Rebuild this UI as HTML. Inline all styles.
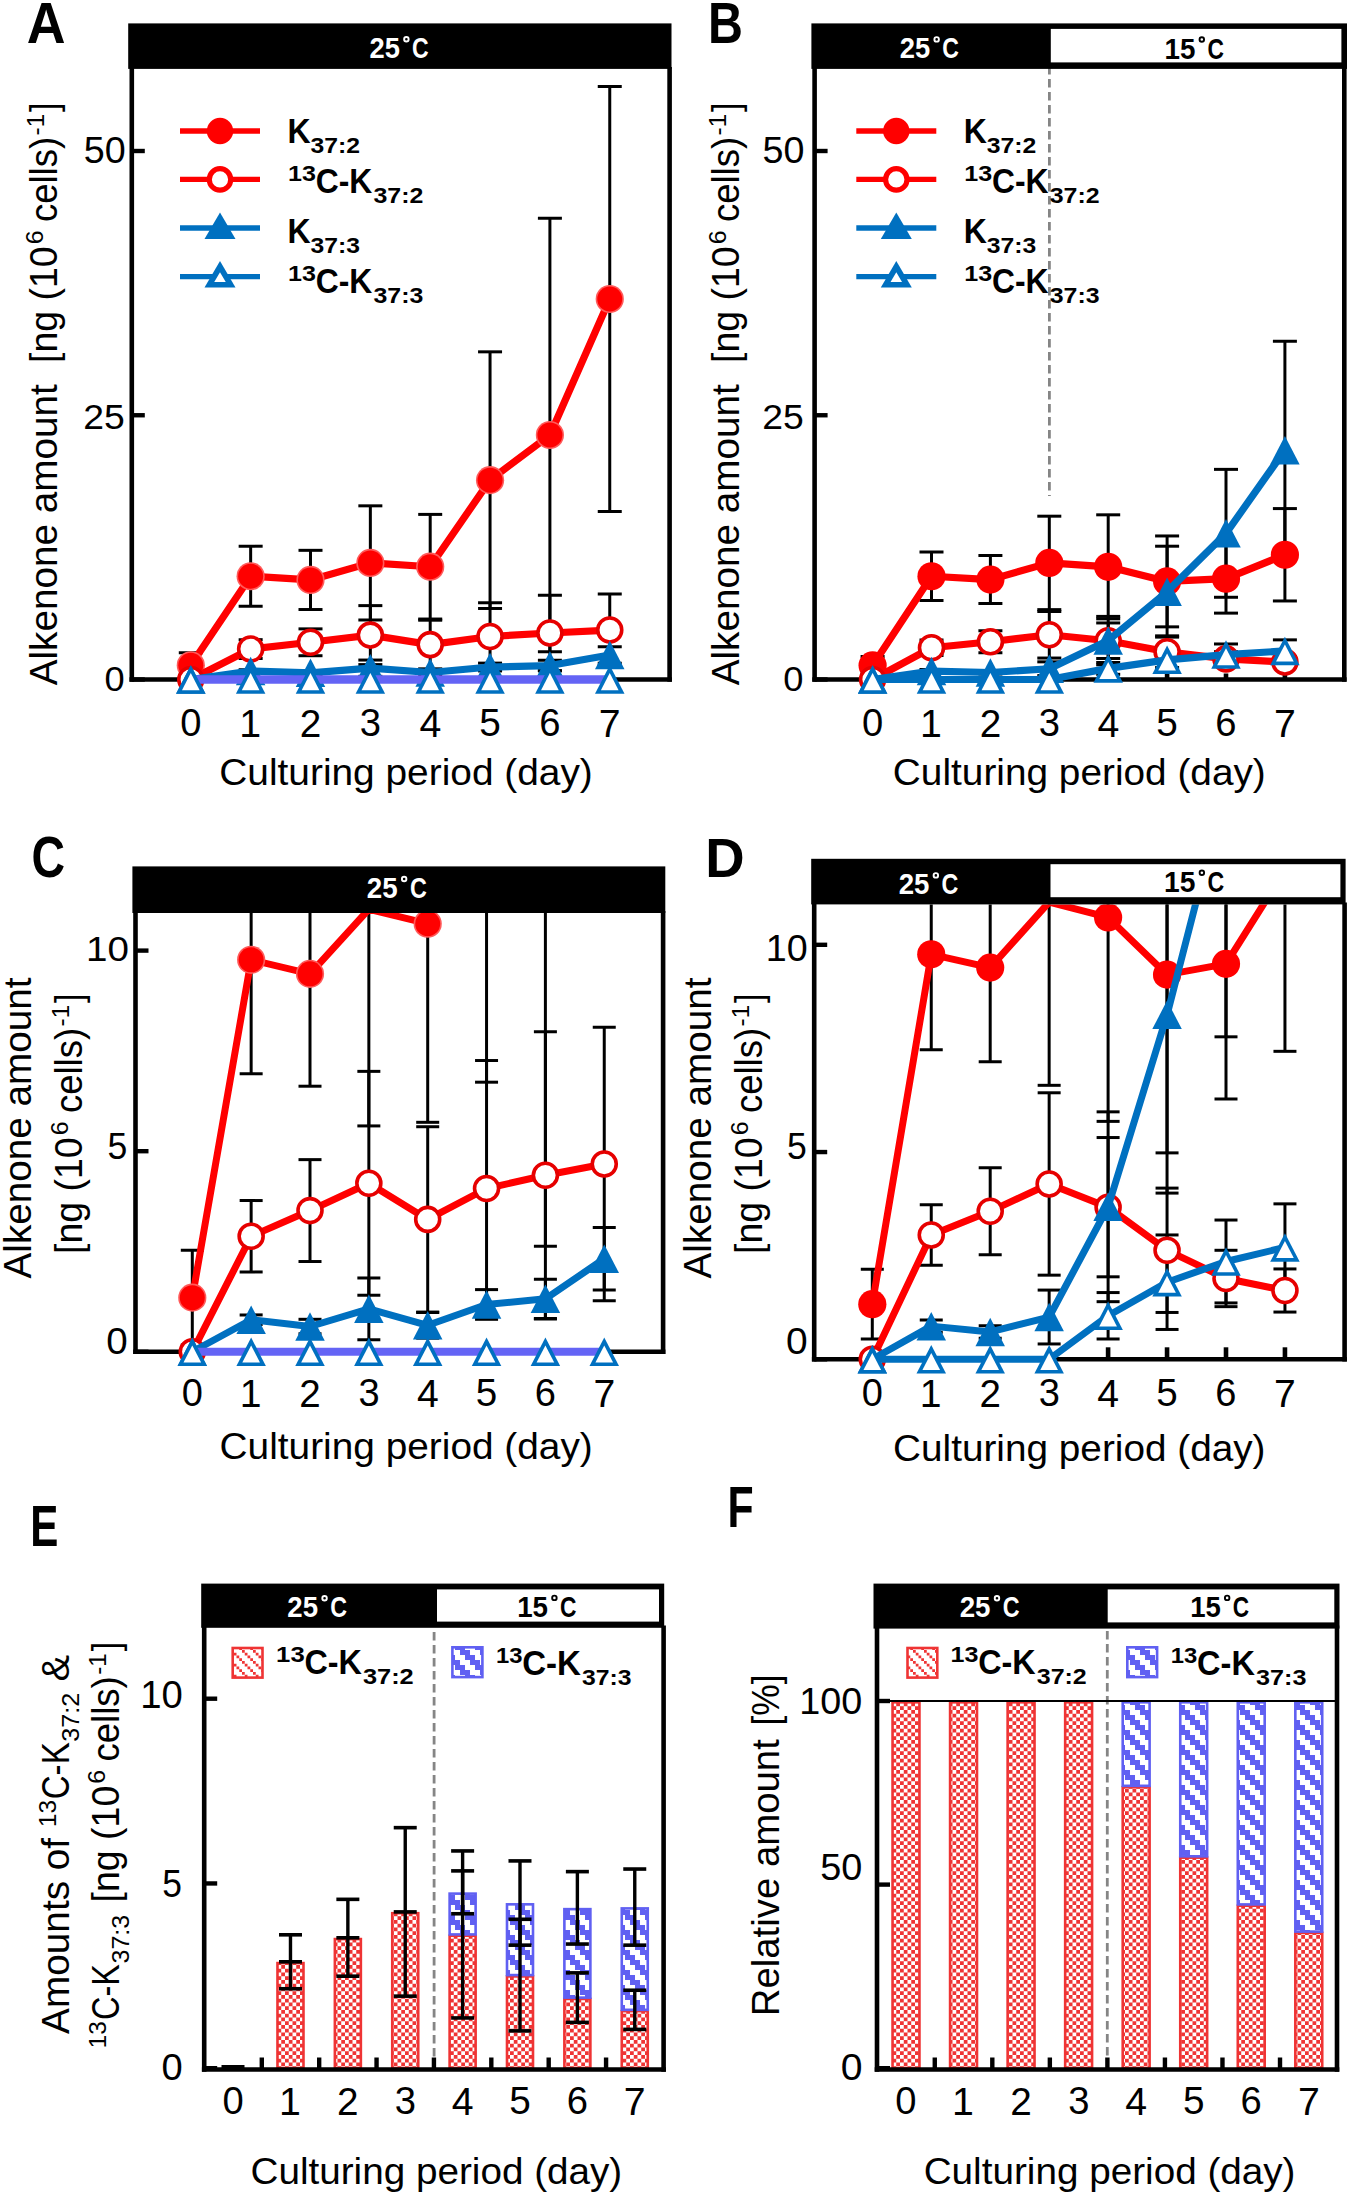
<!DOCTYPE html><html><head><meta charset="utf-8"><style>html,body{margin:0;padding:0;background:#fff;}svg{display:block;}</style></head><body><svg width="1350" height="2195" viewBox="0 0 1350 2195" font-family='"Liberation Sans", sans-serif'><defs><clipPath id="clipA"><rect x="131.8" y="68.9" width="577.8" height="1000"/></clipPath><clipPath id="clipB"><rect x="814.6" y="68.9" width="569.7" height="1000"/></clipPath><clipPath id="clipC"><rect x="135.5" y="913" width="567.6" height="1000"/></clipPath><clipPath id="clipD"><rect x="814.2" y="904.4" width="570.4" height="1000"/></clipPath><pattern id="chk" x="0" y="0" width="7.5" height="7.5" patternUnits="userSpaceOnUse"><rect width="7.5" height="7.5" fill="#ef3434"/><rect x="0" y="0" width="3.75" height="3.75" fill="#fff"/><rect x="3.75" y="3.75" width="3.75" height="3.75" fill="#fff"/></pattern><pattern id="dia" x="0" y="0" width="20" height="20" patternUnits="userSpaceOnUse"><rect width="20" height="20" fill="#6060f2"/><rect x="0" y="0" width="5" height="5" fill="#fff"/><rect x="5" y="0" width="5" height="5" fill="#fff"/><rect x="5" y="5" width="5" height="5" fill="#fff"/><rect x="10" y="5" width="5" height="5" fill="#fff"/><rect x="10" y="10" width="5" height="5" fill="#fff"/><rect x="15" y="10" width="5" height="5" fill="#fff"/><rect x="15" y="15" width="5" height="5" fill="#fff"/><rect x="0" y="15" width="5" height="5" fill="#fff"/></pattern><pattern id="dia_r" x="0" y="0" width="11" height="11" patternUnits="userSpaceOnUse"><rect width="11" height="11" fill="#fff"/><rect x="0" y="0" width="2.75" height="2.75" fill="#ef3434"/><rect x="2.75" y="2.75" width="2.75" height="2.75" fill="#ef3434"/><rect x="5.5" y="5.5" width="2.75" height="2.75" fill="#ef3434"/><rect x="8.25" y="8.25" width="2.75" height="2.75" fill="#ef3434"/></pattern></defs><rect width="1350" height="2195" fill="#fff"/><text transform="translate(26.66,43.3) scale(0.9235,1)" font-size="58.18" font-weight="bold" fill="#000">A</text>
<text transform="translate(708.04,42.5) scale(0.8547,1)" font-size="56.58" font-weight="bold" fill="#000">B</text>
<text transform="translate(31.44,877.13) scale(0.8148,1)" font-size="56.96" font-weight="bold" fill="#000">C</text>
<text transform="translate(705.32,876.8) scale(0.9712,1)" font-size="56.15" font-weight="bold" fill="#000">D</text>
<text transform="translate(30.36,1545.9) scale(0.7354,1)" font-size="57.31" font-weight="bold" fill="#000">E</text>
<text transform="translate(727.61,1526.7) scale(0.7405,1)" font-size="57.75" font-weight="bold" fill="#000">F</text>
<line x1="131.8" y1="66.9" x2="131.8" y2="681.8" stroke="#000" stroke-width="4.6"/>
<line x1="669.6" y1="66.9" x2="669.6" y2="681.8" stroke="#000" stroke-width="4.6"/>
<line x1="129.5" y1="679.5" x2="671.9" y2="679.5" stroke="#000" stroke-width="4.6"/>
<line x1="131.8" y1="679.5" x2="144.8" y2="679.5" stroke="#000" stroke-width="4.4"/>
<line x1="131.8" y1="415.25" x2="144.8" y2="415.25" stroke="#000" stroke-width="4.4"/>
<line x1="131.8" y1="151" x2="144.8" y2="151" stroke="#000" stroke-width="4.4"/>
<g clip-path="url(#clipA)">
<line x1="190.8" y1="652.76" x2="190.8" y2="677.7" stroke="#000" stroke-width="3"/>
<line x1="178.8" y1="652.76" x2="202.8" y2="652.76" stroke="#000" stroke-width="3"/>
<line x1="178.8" y1="677.7" x2="202.8" y2="677.7" stroke="#000" stroke-width="3"/>
<line x1="250.65" y1="546.21" x2="250.65" y2="606.25" stroke="#000" stroke-width="3"/>
<line x1="238.65" y1="546.21" x2="262.65" y2="546.21" stroke="#000" stroke-width="3"/>
<line x1="238.65" y1="606.25" x2="262.65" y2="606.25" stroke="#000" stroke-width="3"/>
<line x1="310.5" y1="550.33" x2="310.5" y2="609.53" stroke="#000" stroke-width="3"/>
<line x1="298.5" y1="550.33" x2="322.5" y2="550.33" stroke="#000" stroke-width="3"/>
<line x1="298.5" y1="609.53" x2="322.5" y2="609.53" stroke="#000" stroke-width="3"/>
<line x1="370.35" y1="505.83" x2="370.35" y2="619.99" stroke="#000" stroke-width="3"/>
<line x1="358.35" y1="505.83" x2="382.35" y2="505.83" stroke="#000" stroke-width="3"/>
<line x1="358.35" y1="619.99" x2="382.35" y2="619.99" stroke="#000" stroke-width="3"/>
<line x1="430.2" y1="514.4" x2="430.2" y2="619.04" stroke="#000" stroke-width="3"/>
<line x1="418.2" y1="514.4" x2="442.2" y2="514.4" stroke="#000" stroke-width="3"/>
<line x1="418.2" y1="619.04" x2="442.2" y2="619.04" stroke="#000" stroke-width="3"/>
<line x1="490.05" y1="351.83" x2="490.05" y2="608.47" stroke="#000" stroke-width="3"/>
<line x1="478.05" y1="351.83" x2="502.05" y2="351.83" stroke="#000" stroke-width="3"/>
<line x1="478.05" y1="608.47" x2="502.05" y2="608.47" stroke="#000" stroke-width="3"/>
<line x1="549.9" y1="218.33" x2="549.9" y2="651.7" stroke="#000" stroke-width="3"/>
<line x1="537.9" y1="218.33" x2="561.9" y2="218.33" stroke="#000" stroke-width="3"/>
<line x1="537.9" y1="651.7" x2="561.9" y2="651.7" stroke="#000" stroke-width="3"/>
<line x1="609.75" y1="86.52" x2="609.75" y2="511.44" stroke="#000" stroke-width="3"/>
<line x1="597.75" y1="86.52" x2="621.75" y2="86.52" stroke="#000" stroke-width="3"/>
<line x1="597.75" y1="511.44" x2="621.75" y2="511.44" stroke="#000" stroke-width="3"/>
<line x1="250.65" y1="639.65" x2="250.65" y2="658.47" stroke="#000" stroke-width="3"/>
<line x1="238.65" y1="639.65" x2="262.65" y2="639.65" stroke="#000" stroke-width="3"/>
<line x1="238.65" y1="658.47" x2="262.65" y2="658.47" stroke="#000" stroke-width="3"/>
<line x1="310.5" y1="628.87" x2="310.5" y2="655.72" stroke="#000" stroke-width="3"/>
<line x1="298.5" y1="628.87" x2="322.5" y2="628.87" stroke="#000" stroke-width="3"/>
<line x1="298.5" y1="655.72" x2="322.5" y2="655.72" stroke="#000" stroke-width="3"/>
<line x1="370.35" y1="605.62" x2="370.35" y2="664.6" stroke="#000" stroke-width="3"/>
<line x1="358.35" y1="605.62" x2="382.35" y2="605.62" stroke="#000" stroke-width="3"/>
<line x1="358.35" y1="664.6" x2="382.35" y2="664.6" stroke="#000" stroke-width="3"/>
<line x1="430.2" y1="620.2" x2="430.2" y2="669.04" stroke="#000" stroke-width="3"/>
<line x1="418.2" y1="620.2" x2="442.2" y2="620.2" stroke="#000" stroke-width="3"/>
<line x1="418.2" y1="669.04" x2="442.2" y2="669.04" stroke="#000" stroke-width="3"/>
<line x1="490.05" y1="602.76" x2="490.05" y2="670.2" stroke="#000" stroke-width="3"/>
<line x1="478.05" y1="602.76" x2="502.05" y2="602.76" stroke="#000" stroke-width="3"/>
<line x1="478.05" y1="670.2" x2="502.05" y2="670.2" stroke="#000" stroke-width="3"/>
<line x1="549.9" y1="595.15" x2="549.9" y2="670.83" stroke="#000" stroke-width="3"/>
<line x1="537.9" y1="595.15" x2="561.9" y2="595.15" stroke="#000" stroke-width="3"/>
<line x1="537.9" y1="670.83" x2="561.9" y2="670.83" stroke="#000" stroke-width="3"/>
<line x1="609.75" y1="593.99" x2="609.75" y2="666.08" stroke="#000" stroke-width="3"/>
<line x1="597.75" y1="593.99" x2="621.75" y2="593.99" stroke="#000" stroke-width="3"/>
<line x1="597.75" y1="666.08" x2="621.75" y2="666.08" stroke="#000" stroke-width="3"/>
<line x1="250.65" y1="669.78" x2="250.65" y2="672.31" stroke="#000" stroke-width="3"/>
<line x1="238.65" y1="669.78" x2="262.65" y2="669.78" stroke="#000" stroke-width="3"/>
<line x1="238.65" y1="672.31" x2="262.65" y2="672.31" stroke="#000" stroke-width="3"/>
<line x1="310.5" y1="670.94" x2="310.5" y2="674.74" stroke="#000" stroke-width="3"/>
<line x1="298.5" y1="670.94" x2="322.5" y2="670.94" stroke="#000" stroke-width="3"/>
<line x1="298.5" y1="674.74" x2="322.5" y2="674.74" stroke="#000" stroke-width="3"/>
<line x1="370.35" y1="660.05" x2="370.35" y2="676.33" stroke="#000" stroke-width="3"/>
<line x1="358.35" y1="660.05" x2="382.35" y2="660.05" stroke="#000" stroke-width="3"/>
<line x1="358.35" y1="676.33" x2="382.35" y2="676.33" stroke="#000" stroke-width="3"/>
<line x1="430.2" y1="669.14" x2="430.2" y2="675.91" stroke="#000" stroke-width="3"/>
<line x1="418.2" y1="669.14" x2="442.2" y2="669.14" stroke="#000" stroke-width="3"/>
<line x1="418.2" y1="675.91" x2="442.2" y2="675.91" stroke="#000" stroke-width="3"/>
<line x1="490.05" y1="663.12" x2="490.05" y2="670.94" stroke="#000" stroke-width="3"/>
<line x1="478.05" y1="663.12" x2="502.05" y2="663.12" stroke="#000" stroke-width="3"/>
<line x1="478.05" y1="670.94" x2="502.05" y2="670.94" stroke="#000" stroke-width="3"/>
<line x1="549.9" y1="660.37" x2="549.9" y2="670.73" stroke="#000" stroke-width="3"/>
<line x1="537.9" y1="660.37" x2="561.9" y2="660.37" stroke="#000" stroke-width="3"/>
<line x1="537.9" y1="670.73" x2="561.9" y2="670.73" stroke="#000" stroke-width="3"/>
<line x1="609.75" y1="646.73" x2="609.75" y2="663.22" stroke="#000" stroke-width="3"/>
<line x1="597.75" y1="646.73" x2="621.75" y2="646.73" stroke="#000" stroke-width="3"/>
<line x1="597.75" y1="663.22" x2="621.75" y2="663.22" stroke="#000" stroke-width="3"/>
<polyline points="190.8,665.23 250.65,576.23 310.5,579.93 370.35,562.91 430.2,566.72 490.05,480.15 549.9,435.02 609.75,298.98" fill="none" stroke="#ff0000" stroke-width="7.2" stroke-linejoin="round"/>
<circle cx="190.8" cy="665.23" r="14.1" fill="#ff5a5a"/>
<circle cx="190.8" cy="665.23" r="12.5" fill="#ff0000"/>
<circle cx="250.65" cy="576.23" r="14.1" fill="#ff5a5a"/>
<circle cx="250.65" cy="576.23" r="12.5" fill="#ff0000"/>
<circle cx="310.5" cy="579.93" r="14.1" fill="#ff5a5a"/>
<circle cx="310.5" cy="579.93" r="12.5" fill="#ff0000"/>
<circle cx="370.35" cy="562.91" r="14.1" fill="#ff5a5a"/>
<circle cx="370.35" cy="562.91" r="12.5" fill="#ff0000"/>
<circle cx="430.2" cy="566.72" r="14.1" fill="#ff5a5a"/>
<circle cx="430.2" cy="566.72" r="12.5" fill="#ff0000"/>
<circle cx="490.05" cy="480.15" r="14.1" fill="#ff5a5a"/>
<circle cx="490.05" cy="480.15" r="12.5" fill="#ff0000"/>
<circle cx="549.9" cy="435.02" r="14.1" fill="#ff5a5a"/>
<circle cx="549.9" cy="435.02" r="12.5" fill="#ff0000"/>
<circle cx="609.75" cy="298.98" r="14.1" fill="#ff5a5a"/>
<circle cx="609.75" cy="298.98" r="12.5" fill="#ff0000"/>
<polyline points="190.8,679.5 250.65,649.06 310.5,642.29 370.35,635.11 430.2,644.62 490.05,636.48 549.9,632.99 609.75,630.03" fill="none" stroke="#ff0000" stroke-width="7.2" stroke-linejoin="round"/>
<circle cx="190.8" cy="679.5" r="12" fill="#fff" stroke="#e60000" stroke-width="3.6"/>
<circle cx="250.65" cy="649.06" r="12" fill="#fff" stroke="#e60000" stroke-width="3.6"/>
<circle cx="310.5" cy="642.29" r="12" fill="#fff" stroke="#e60000" stroke-width="3.6"/>
<circle cx="370.35" cy="635.11" r="12" fill="#fff" stroke="#e60000" stroke-width="3.6"/>
<circle cx="430.2" cy="644.62" r="12" fill="#fff" stroke="#e60000" stroke-width="3.6"/>
<circle cx="490.05" cy="636.48" r="12" fill="#fff" stroke="#e60000" stroke-width="3.6"/>
<circle cx="549.9" cy="632.99" r="12" fill="#fff" stroke="#e60000" stroke-width="3.6"/>
<circle cx="609.75" cy="630.03" r="12" fill="#fff" stroke="#e60000" stroke-width="3.6"/>
<polyline points="190.8,679.5 250.65,671.04 310.5,672.84 370.35,668.19 430.2,672.52 490.05,667.03 549.9,665.55 609.75,654.98" fill="none" stroke="#0070c0" stroke-width="7.2" stroke-linejoin="round"/>
<polygon points="190.8,665.25 205.55,693.75 176.05,693.75" fill="#0070c0"/>
<polygon points="250.65,656.79 265.4,685.29 235.9,685.29" fill="#0070c0"/>
<polygon points="310.5,658.59 325.25,687.09 295.75,687.09" fill="#0070c0"/>
<polygon points="370.35,653.94 385.1,682.44 355.6,682.44" fill="#0070c0"/>
<polygon points="430.2,658.27 444.95,686.77 415.45,686.77" fill="#0070c0"/>
<polygon points="490.05,652.78 504.8,681.28 475.3,681.28" fill="#0070c0"/>
<polygon points="549.9,651.3 564.65,679.8 535.15,679.8" fill="#0070c0"/>
<polygon points="609.75,640.73 624.5,669.23 595,669.23" fill="#0070c0"/>
<polyline points="190.8,679.5 250.65,679.5 310.5,679.5 370.35,679.5 430.2,679.5 490.05,679.5 549.9,679.5 609.75,679.5" fill="none" stroke="#6464f5" stroke-width="8.4" stroke-linejoin="round"/>
<polygon points="190.8,665.25 205.55,693.75 176.05,693.75" fill="#0070c0"/>
<polygon points="190.8,673.08 199.63,690.15 181.97,690.15" fill="#fff"/>
<polygon points="250.65,665.25 265.4,693.75 235.9,693.75" fill="#0070c0"/>
<polygon points="250.65,673.08 259.48,690.15 241.82,690.15" fill="#fff"/>
<polygon points="310.5,665.25 325.25,693.75 295.75,693.75" fill="#0070c0"/>
<polygon points="310.5,673.08 319.33,690.15 301.67,690.15" fill="#fff"/>
<polygon points="370.35,665.25 385.1,693.75 355.6,693.75" fill="#0070c0"/>
<polygon points="370.35,673.08 379.18,690.15 361.52,690.15" fill="#fff"/>
<polygon points="430.2,665.25 444.95,693.75 415.45,693.75" fill="#0070c0"/>
<polygon points="430.2,673.08 439.03,690.15 421.37,690.15" fill="#fff"/>
<polygon points="490.05,665.25 504.8,693.75 475.3,693.75" fill="#0070c0"/>
<polygon points="490.05,673.08 498.88,690.15 481.22,690.15" fill="#fff"/>
<polygon points="549.9,665.25 564.65,693.75 535.15,693.75" fill="#0070c0"/>
<polygon points="549.9,673.08 558.73,690.15 541.07,690.15" fill="#fff"/>
<polygon points="609.75,665.25 624.5,693.75 595,693.75" fill="#0070c0"/>
<polygon points="609.75,673.08 618.58,690.15 600.92,690.15" fill="#fff"/>
</g>
<text transform="translate(180.16,736.42) scale(1.0000,1)" font-size="38.16" fill="#000">0</text>
<text transform="translate(239.21,736.8) scale(1.0000,1)" font-size="39.27" fill="#000">1</text>
<text transform="translate(299.76,736.8) scale(1.0000,1)" font-size="38.71" fill="#000">2</text>
<text transform="translate(359.86,736.42) scale(1.0000,1)" font-size="38.16" fill="#000">3</text>
<text transform="translate(419.4,736.8) scale(1.0000,1)" font-size="39.27" fill="#000">4</text>
<text transform="translate(479.31,736.41) scale(1.0000,1)" font-size="38.71" fill="#000">5</text>
<text transform="translate(539.17,736.42) scale(1.0000,1)" font-size="38.16" fill="#000">6</text>
<text transform="translate(598.85,736.8) scale(1.0000,1)" font-size="39.27" fill="#000">7</text>
<line x1="180" y1="131" x2="260" y2="131" stroke="#ff0000" stroke-width="5.4"/>
<circle cx="220" cy="131" r="13.2" fill="#ff0000"/>
<line x1="180" y1="179.4" x2="260" y2="179.4" stroke="#ff0000" stroke-width="5.4"/>
<circle cx="220" cy="179.4" r="10.7" fill="#fff" stroke="#ff0000" stroke-width="5.2"/>
<line x1="180" y1="228" x2="260" y2="228" stroke="#0070c0" stroke-width="5.4"/>
<polygon points="220,212.45 235.5,238.95 204.5,238.95" fill="#0070c0"/>
<line x1="180" y1="276.6" x2="260" y2="276.6" stroke="#0070c0" stroke-width="5.4"/>
<polygon points="220,261.05 235.5,287.55 204.5,287.55" fill="#0070c0"/>
<polygon points="220,272.14 225.74,281.95 214.26,281.95" fill="#fff"/>
<text transform="translate(287.44,143) scale(0.8997,1)" font-size="35.5" font-weight="bold" fill="#000">K</text>
<text transform="translate(310.44,153) scale(1.1508,1)" font-size="21.5" font-weight="bold" fill="#000">37:2</text>
<text transform="translate(288.03,181) scale(1.1668,1)" font-size="21.5" font-weight="bold" fill="#000">13</text>
<text transform="translate(315.73,193) scale(0.8968,1)" font-size="35.5" font-weight="bold" fill="#000">C-K</text>
<text transform="translate(373.44,203) scale(1.1604,1)" font-size="21.5" font-weight="bold" fill="#000">37:2</text>
<text transform="translate(287.44,243) scale(0.8997,1)" font-size="35.5" font-weight="bold" fill="#000">K</text>
<text transform="translate(310.44,253) scale(1.1493,1)" font-size="21.5" font-weight="bold" fill="#000">37:3</text>
<text transform="translate(288.03,281) scale(1.1668,1)" font-size="21.5" font-weight="bold" fill="#000">13</text>
<text transform="translate(315.73,293) scale(0.8968,1)" font-size="35.5" font-weight="bold" fill="#000">C-K</text>
<text transform="translate(373.44,303) scale(1.1589,1)" font-size="21.5" font-weight="bold" fill="#000">37:3</text>
<text transform="translate(83.69,162.62) scale(0.9983,1)" font-size="37.74" fill="#000">50</text>
<text transform="translate(83.33,428.54) scale(1.0487,1)" font-size="35.62" fill="#000">25</text>
<text transform="translate(104.55,690.65) scale(1.0253,1)" font-size="35.34" fill="#000">0</text>
<text transform="translate(219.26,784.9) scale(1.0616,1)" font-size="36.6" fill="#000">Culturing period (day)</text>
<g transform="rotate(-90)">
<text transform="translate(-685.3,56.8) scale(0.9873,1)" font-size="39.2" fill="#000">Alkenone amount</text>
</g>
<g transform="rotate(-90)">
<text transform="translate(-363.03,56.8) scale(0.9567,1)" font-size="39.2" fill="#000">[ng (10</text>
</g>
<g transform="rotate(-90)">
<text transform="translate(-244.35,43.3) scale(1.0673,1)" font-size="23.5" fill="#000">6</text>
</g>
<g transform="rotate(-90)">
<text transform="translate(-222.05,56.8) scale(0.9312,1)" font-size="39.2" fill="#000">cells)</text>
</g>
<g transform="rotate(-90)">
<text transform="translate(-135.39,43.8) scale(1.0331,1)" font-size="23.5" fill="#000">-1</text>
</g>
<g transform="rotate(-90)">
<text transform="translate(-111.95,56.8) scale(0.8673,1)" font-size="39.2" fill="#000">]</text>
</g>
<line x1="814.6" y1="66.9" x2="814.6" y2="681.8" stroke="#000" stroke-width="4.6"/>
<line x1="1344.3" y1="66.9" x2="1344.3" y2="681.8" stroke="#000" stroke-width="4.6"/>
<line x1="812.3" y1="679.5" x2="1346.6" y2="679.5" stroke="#000" stroke-width="4.6"/>
<line x1="814.6" y1="679.5" x2="827.6" y2="679.5" stroke="#000" stroke-width="4.4"/>
<line x1="814.6" y1="415.25" x2="827.6" y2="415.25" stroke="#000" stroke-width="4.4"/>
<line x1="814.6" y1="151" x2="827.6" y2="151" stroke="#000" stroke-width="4.4"/>
<line x1="1108.2" y1="673.5" x2="1108.2" y2="679.5" stroke="#000" stroke-width="4.6"/>
<line x1="1167.1" y1="673.5" x2="1167.1" y2="679.5" stroke="#000" stroke-width="4.6"/>
<line x1="1226" y1="673.5" x2="1226" y2="679.5" stroke="#000" stroke-width="4.6"/>
<line x1="1284.9" y1="673.5" x2="1284.9" y2="679.5" stroke="#000" stroke-width="4.6"/>
<line x1="1049.4" y1="66" x2="1049.4" y2="496" stroke="#858585" stroke-width="2.8" stroke-dasharray="8.5,4.5"/>
<g clip-path="url(#clipB)">
<line x1="872.6" y1="656.56" x2="872.6" y2="674.32" stroke="#000" stroke-width="3"/>
<line x1="860.6" y1="656.56" x2="884.6" y2="656.56" stroke="#000" stroke-width="3"/>
<line x1="860.6" y1="674.32" x2="884.6" y2="674.32" stroke="#000" stroke-width="3"/>
<line x1="931.5" y1="551.92" x2="931.5" y2="600.54" stroke="#000" stroke-width="3"/>
<line x1="919.5" y1="551.92" x2="943.5" y2="551.92" stroke="#000" stroke-width="3"/>
<line x1="919.5" y1="600.54" x2="943.5" y2="600.54" stroke="#000" stroke-width="3"/>
<line x1="990.4" y1="555.62" x2="990.4" y2="603.61" stroke="#000" stroke-width="3"/>
<line x1="978.4" y1="555.62" x2="1002.4" y2="555.62" stroke="#000" stroke-width="3"/>
<line x1="978.4" y1="603.61" x2="1002.4" y2="603.61" stroke="#000" stroke-width="3"/>
<line x1="1049.3" y1="516.19" x2="1049.3" y2="609.63" stroke="#000" stroke-width="3"/>
<line x1="1037.3" y1="516.19" x2="1061.3" y2="516.19" stroke="#000" stroke-width="3"/>
<line x1="1037.3" y1="609.63" x2="1061.3" y2="609.63" stroke="#000" stroke-width="3"/>
<line x1="1108.2" y1="514.82" x2="1108.2" y2="618.83" stroke="#000" stroke-width="3"/>
<line x1="1096.2" y1="514.82" x2="1120.2" y2="514.82" stroke="#000" stroke-width="3"/>
<line x1="1096.2" y1="618.83" x2="1120.2" y2="618.83" stroke="#000" stroke-width="3"/>
<line x1="1167.1" y1="535.96" x2="1167.1" y2="626.86" stroke="#000" stroke-width="3"/>
<line x1="1155.1" y1="535.96" x2="1179.1" y2="535.96" stroke="#000" stroke-width="3"/>
<line x1="1155.1" y1="626.86" x2="1179.1" y2="626.86" stroke="#000" stroke-width="3"/>
<line x1="1226" y1="544.2" x2="1226" y2="613.12" stroke="#000" stroke-width="3"/>
<line x1="1214" y1="544.2" x2="1238" y2="544.2" stroke="#000" stroke-width="3"/>
<line x1="1214" y1="613.12" x2="1238" y2="613.12" stroke="#000" stroke-width="3"/>
<line x1="1284.9" y1="508.58" x2="1284.9" y2="600.96" stroke="#000" stroke-width="3"/>
<line x1="1272.9" y1="508.58" x2="1296.9" y2="508.58" stroke="#000" stroke-width="3"/>
<line x1="1272.9" y1="600.96" x2="1296.9" y2="600.96" stroke="#000" stroke-width="3"/>
<line x1="931.5" y1="640.07" x2="931.5" y2="655.51" stroke="#000" stroke-width="3"/>
<line x1="919.5" y1="640.07" x2="943.5" y2="640.07" stroke="#000" stroke-width="3"/>
<line x1="919.5" y1="655.51" x2="943.5" y2="655.51" stroke="#000" stroke-width="3"/>
<line x1="990.4" y1="630.67" x2="990.4" y2="652.86" stroke="#000" stroke-width="3"/>
<line x1="978.4" y1="630.67" x2="1002.4" y2="630.67" stroke="#000" stroke-width="3"/>
<line x1="978.4" y1="652.86" x2="1002.4" y2="652.86" stroke="#000" stroke-width="3"/>
<line x1="1049.3" y1="611.53" x2="1049.3" y2="658.04" stroke="#000" stroke-width="3"/>
<line x1="1037.3" y1="611.53" x2="1061.3" y2="611.53" stroke="#000" stroke-width="3"/>
<line x1="1037.3" y1="658.04" x2="1061.3" y2="658.04" stroke="#000" stroke-width="3"/>
<line x1="1108.2" y1="622.95" x2="1108.2" y2="658.47" stroke="#000" stroke-width="3"/>
<line x1="1096.2" y1="622.95" x2="1120.2" y2="622.95" stroke="#000" stroke-width="3"/>
<line x1="1096.2" y1="658.47" x2="1120.2" y2="658.47" stroke="#000" stroke-width="3"/>
<line x1="1167.1" y1="635.85" x2="1167.1" y2="667.56" stroke="#000" stroke-width="3"/>
<line x1="1155.1" y1="635.85" x2="1179.1" y2="635.85" stroke="#000" stroke-width="3"/>
<line x1="1155.1" y1="667.56" x2="1179.1" y2="667.56" stroke="#000" stroke-width="3"/>
<line x1="1226" y1="651.7" x2="1226" y2="666.08" stroke="#000" stroke-width="3"/>
<line x1="1214" y1="651.7" x2="1238" y2="651.7" stroke="#000" stroke-width="3"/>
<line x1="1214" y1="666.08" x2="1238" y2="666.08" stroke="#000" stroke-width="3"/>
<line x1="1284.9" y1="656.46" x2="1284.9" y2="667.45" stroke="#000" stroke-width="3"/>
<line x1="1272.9" y1="656.46" x2="1296.9" y2="656.46" stroke="#000" stroke-width="3"/>
<line x1="1272.9" y1="667.45" x2="1296.9" y2="667.45" stroke="#000" stroke-width="3"/>
<line x1="931.5" y1="669.46" x2="931.5" y2="672.63" stroke="#000" stroke-width="3"/>
<line x1="919.5" y1="669.46" x2="943.5" y2="669.46" stroke="#000" stroke-width="3"/>
<line x1="919.5" y1="672.63" x2="943.5" y2="672.63" stroke="#000" stroke-width="3"/>
<line x1="990.4" y1="670.94" x2="990.4" y2="674.11" stroke="#000" stroke-width="3"/>
<line x1="978.4" y1="670.94" x2="1002.4" y2="670.94" stroke="#000" stroke-width="3"/>
<line x1="978.4" y1="674.11" x2="1002.4" y2="674.11" stroke="#000" stroke-width="3"/>
<line x1="1049.3" y1="661.85" x2="1049.3" y2="675.59" stroke="#000" stroke-width="3"/>
<line x1="1037.3" y1="661.85" x2="1061.3" y2="661.85" stroke="#000" stroke-width="3"/>
<line x1="1037.3" y1="675.59" x2="1061.3" y2="675.59" stroke="#000" stroke-width="3"/>
<line x1="1108.2" y1="616.4" x2="1108.2" y2="664.81" stroke="#000" stroke-width="3"/>
<line x1="1096.2" y1="616.4" x2="1120.2" y2="616.4" stroke="#000" stroke-width="3"/>
<line x1="1096.2" y1="664.81" x2="1120.2" y2="664.81" stroke="#000" stroke-width="3"/>
<line x1="1167.1" y1="546.21" x2="1167.1" y2="637.11" stroke="#000" stroke-width="3"/>
<line x1="1155.1" y1="546.21" x2="1179.1" y2="546.21" stroke="#000" stroke-width="3"/>
<line x1="1155.1" y1="637.11" x2="1179.1" y2="637.11" stroke="#000" stroke-width="3"/>
<line x1="1226" y1="469.37" x2="1226" y2="597.27" stroke="#000" stroke-width="3"/>
<line x1="1214" y1="469.37" x2="1238" y2="469.37" stroke="#000" stroke-width="3"/>
<line x1="1214" y1="597.27" x2="1238" y2="597.27" stroke="#000" stroke-width="3"/>
<line x1="1284.9" y1="341.26" x2="1284.9" y2="559" stroke="#000" stroke-width="3"/>
<line x1="1272.9" y1="341.26" x2="1296.9" y2="341.26" stroke="#000" stroke-width="3"/>
<line x1="1272.9" y1="559" x2="1296.9" y2="559" stroke="#000" stroke-width="3"/>
<line x1="1108.2" y1="662.48" x2="1108.2" y2="674.32" stroke="#000" stroke-width="3"/>
<line x1="1096.2" y1="662.48" x2="1120.2" y2="662.48" stroke="#000" stroke-width="3"/>
<line x1="1096.2" y1="674.32" x2="1120.2" y2="674.32" stroke="#000" stroke-width="3"/>
<line x1="1167.1" y1="647.79" x2="1167.1" y2="671.89" stroke="#000" stroke-width="3"/>
<line x1="1155.1" y1="647.79" x2="1179.1" y2="647.79" stroke="#000" stroke-width="3"/>
<line x1="1155.1" y1="671.89" x2="1179.1" y2="671.89" stroke="#000" stroke-width="3"/>
<line x1="1226" y1="643.98" x2="1226" y2="665.12" stroke="#000" stroke-width="3"/>
<line x1="1214" y1="643.98" x2="1238" y2="643.98" stroke="#000" stroke-width="3"/>
<line x1="1214" y1="665.12" x2="1238" y2="665.12" stroke="#000" stroke-width="3"/>
<line x1="1284.9" y1="639.86" x2="1284.9" y2="662.06" stroke="#000" stroke-width="3"/>
<line x1="1272.9" y1="639.86" x2="1296.9" y2="639.86" stroke="#000" stroke-width="3"/>
<line x1="1272.9" y1="662.06" x2="1296.9" y2="662.06" stroke="#000" stroke-width="3"/>
<polyline points="872.6,665.44 931.5,576.23 990.4,579.61 1049.3,562.91 1108.2,566.82 1167.1,581.41 1226,578.66 1284.9,554.77" fill="none" stroke="#ff0000" stroke-width="7.2" stroke-linejoin="round"/>
<circle cx="872.6" cy="665.44" r="14.1" fill="#ff0000"/>
<circle cx="931.5" cy="576.23" r="14.1" fill="#ff0000"/>
<circle cx="990.4" cy="579.61" r="14.1" fill="#ff0000"/>
<circle cx="1049.3" cy="562.91" r="14.1" fill="#ff0000"/>
<circle cx="1108.2" cy="566.82" r="14.1" fill="#ff0000"/>
<circle cx="1167.1" cy="581.41" r="14.1" fill="#ff0000"/>
<circle cx="1226" cy="578.66" r="14.1" fill="#ff0000"/>
<circle cx="1284.9" cy="554.77" r="14.1" fill="#ff0000"/>
<polyline points="872.6,679.5 931.5,647.79 990.4,641.77 1049.3,634.79 1108.2,640.71 1167.1,651.7 1226,658.89 1284.9,661.95" fill="none" stroke="#ff0000" stroke-width="7.2" stroke-linejoin="round"/>
<circle cx="872.6" cy="679.5" r="12" fill="#fff" stroke="#e60000" stroke-width="3.6"/>
<circle cx="931.5" cy="647.79" r="12" fill="#fff" stroke="#e60000" stroke-width="3.6"/>
<circle cx="990.4" cy="641.77" r="12" fill="#fff" stroke="#e60000" stroke-width="3.6"/>
<circle cx="1049.3" cy="634.79" r="12" fill="#fff" stroke="#e60000" stroke-width="3.6"/>
<circle cx="1108.2" cy="640.71" r="12" fill="#fff" stroke="#e60000" stroke-width="3.6"/>
<circle cx="1167.1" cy="651.7" r="12" fill="#fff" stroke="#e60000" stroke-width="3.6"/>
<circle cx="1226" cy="658.89" r="12" fill="#fff" stroke="#e60000" stroke-width="3.6"/>
<circle cx="1284.9" cy="661.95" r="12" fill="#fff" stroke="#e60000" stroke-width="3.6"/>
<polyline points="872.6,679.5 931.5,671.04 990.4,672.52 1049.3,668.72 1108.2,640.6 1167.1,591.66 1226,533.32 1284.9,450.13" fill="none" stroke="#0070c0" stroke-width="7.2" stroke-linejoin="round"/>
<polygon points="872.6,665.25 887.35,693.75 857.85,693.75" fill="#0070c0"/>
<polygon points="931.5,656.79 946.25,685.29 916.75,685.29" fill="#0070c0"/>
<polygon points="990.4,658.27 1005.15,686.77 975.65,686.77" fill="#0070c0"/>
<polygon points="1049.3,654.47 1064.05,682.97 1034.55,682.97" fill="#0070c0"/>
<polygon points="1108.2,626.35 1122.95,654.85 1093.45,654.85" fill="#0070c0"/>
<polygon points="1167.1,577.41 1181.85,605.91 1152.35,605.91" fill="#0070c0"/>
<polygon points="1226,519.07 1240.75,547.57 1211.25,547.57" fill="#0070c0"/>
<polygon points="1284.9,435.88 1299.65,464.38 1270.15,464.38" fill="#0070c0"/>
<polyline points="872.6,679.5 931.5,679.5 990.4,679.5 1049.3,679.5 1108.2,668.4 1167.1,659.84 1226,654.55 1284.9,650.96" fill="none" stroke="#0070c0" stroke-width="7.2" stroke-linejoin="round"/>
<polygon points="872.6,665.25 887.35,693.75 857.85,693.75" fill="#0070c0"/>
<polygon points="872.6,673.08 881.43,690.15 863.77,690.15" fill="#fff"/>
<polygon points="931.5,665.25 946.25,693.75 916.75,693.75" fill="#0070c0"/>
<polygon points="931.5,673.08 940.33,690.15 922.67,690.15" fill="#fff"/>
<polygon points="990.4,665.25 1005.15,693.75 975.65,693.75" fill="#0070c0"/>
<polygon points="990.4,673.08 999.23,690.15 981.57,690.15" fill="#fff"/>
<polygon points="1049.3,665.25 1064.05,693.75 1034.55,693.75" fill="#0070c0"/>
<polygon points="1049.3,673.08 1058.13,690.15 1040.47,690.15" fill="#fff"/>
<polygon points="1108.2,654.15 1122.95,682.65 1093.45,682.65" fill="#0070c0"/>
<polygon points="1108.2,661.98 1117.03,679.05 1099.37,679.05" fill="#fff"/>
<polygon points="1167.1,645.59 1181.85,674.09 1152.35,674.09" fill="#0070c0"/>
<polygon points="1167.1,653.42 1175.93,670.49 1158.27,670.49" fill="#fff"/>
<polygon points="1226,640.3 1240.75,668.8 1211.25,668.8" fill="#0070c0"/>
<polygon points="1226,648.14 1234.83,665.2 1217.17,665.2" fill="#fff"/>
<polygon points="1284.9,636.71 1299.65,665.21 1270.15,665.21" fill="#0070c0"/>
<polygon points="1284.9,644.54 1293.73,661.61 1276.07,661.61" fill="#fff"/>
</g>
<text transform="translate(861.96,736.42) scale(1.0000,1)" font-size="38.16" fill="#000">0</text>
<text transform="translate(920.06,736.8) scale(1.0000,1)" font-size="39.27" fill="#000">1</text>
<text transform="translate(979.66,736.8) scale(1.0000,1)" font-size="38.71" fill="#000">2</text>
<text transform="translate(1038.81,736.42) scale(1.0000,1)" font-size="38.16" fill="#000">3</text>
<text transform="translate(1097.4,736.8) scale(1.0000,1)" font-size="39.27" fill="#000">4</text>
<text transform="translate(1156.36,736.41) scale(1.0000,1)" font-size="38.71" fill="#000">5</text>
<text transform="translate(1215.27,736.42) scale(1.0000,1)" font-size="38.16" fill="#000">6</text>
<text transform="translate(1274,736.8) scale(1.0000,1)" font-size="39.27" fill="#000">7</text>
<line x1="856.3" y1="131" x2="936.3" y2="131" stroke="#ff0000" stroke-width="5.4"/>
<circle cx="896.3" cy="131" r="13.2" fill="#ff0000"/>
<line x1="856.3" y1="179.4" x2="936.3" y2="179.4" stroke="#ff0000" stroke-width="5.4"/>
<circle cx="896.3" cy="179.4" r="10.7" fill="#fff" stroke="#ff0000" stroke-width="5.2"/>
<line x1="856.3" y1="228" x2="936.3" y2="228" stroke="#0070c0" stroke-width="5.4"/>
<polygon points="896.3,212.45 911.8,238.95 880.8,238.95" fill="#0070c0"/>
<line x1="856.3" y1="276.6" x2="936.3" y2="276.6" stroke="#0070c0" stroke-width="5.4"/>
<polygon points="896.3,261.05 911.8,287.55 880.8,287.55" fill="#0070c0"/>
<polygon points="896.3,272.14 902.04,281.95 890.56,281.95" fill="#fff"/>
<text transform="translate(963.74,143) scale(0.8997,1)" font-size="35.5" font-weight="bold" fill="#000">K</text>
<text transform="translate(986.74,153) scale(1.1508,1)" font-size="21.5" font-weight="bold" fill="#000">37:2</text>
<text transform="translate(964.33,181) scale(1.1668,1)" font-size="21.5" font-weight="bold" fill="#000">13</text>
<text transform="translate(992.03,193) scale(0.8968,1)" font-size="35.5" font-weight="bold" fill="#000">C-K</text>
<text transform="translate(1049.74,203) scale(1.1604,1)" font-size="21.5" font-weight="bold" fill="#000">37:2</text>
<text transform="translate(963.74,243) scale(0.8997,1)" font-size="35.5" font-weight="bold" fill="#000">K</text>
<text transform="translate(986.74,253) scale(1.1493,1)" font-size="21.5" font-weight="bold" fill="#000">37:3</text>
<text transform="translate(964.33,281) scale(1.1668,1)" font-size="21.5" font-weight="bold" fill="#000">13</text>
<text transform="translate(992.03,293) scale(0.8968,1)" font-size="35.5" font-weight="bold" fill="#000">C-K</text>
<text transform="translate(1049.74,303) scale(1.1589,1)" font-size="21.5" font-weight="bold" fill="#000">37:3</text>
<text transform="translate(762.49,162.62) scale(0.9983,1)" font-size="37.74" fill="#000">50</text>
<text transform="translate(762.13,428.54) scale(1.0487,1)" font-size="35.62" fill="#000">25</text>
<text transform="translate(783.35,690.65) scale(1.0253,1)" font-size="35.34" fill="#000">0</text>
<text transform="translate(892.86,784.9) scale(1.0598,1)" font-size="36.6" fill="#000">Culturing period (day)</text>
<g transform="rotate(-90)">
<text transform="translate(-685.3,739.4) scale(0.9873,1)" font-size="39.2" fill="#000">Alkenone amount</text>
</g>
<g transform="rotate(-90)">
<text transform="translate(-363.03,739.4) scale(0.9567,1)" font-size="39.2" fill="#000">[ng (10</text>
</g>
<g transform="rotate(-90)">
<text transform="translate(-244.35,725.9) scale(1.0673,1)" font-size="23.5" fill="#000">6</text>
</g>
<g transform="rotate(-90)">
<text transform="translate(-222.05,739.4) scale(0.9312,1)" font-size="39.2" fill="#000">cells)</text>
</g>
<g transform="rotate(-90)">
<text transform="translate(-135.39,726.4) scale(1.0331,1)" font-size="23.5" fill="#000">-1</text>
</g>
<g transform="rotate(-90)">
<text transform="translate(-111.95,739.4) scale(0.8673,1)" font-size="39.2" fill="#000">]</text>
</g>
<line x1="135.5" y1="911" x2="135.5" y2="1354.1" stroke="#000" stroke-width="4.6"/>
<line x1="663.1" y1="911" x2="663.1" y2="1354.1" stroke="#000" stroke-width="4.6"/>
<line x1="133.2" y1="1351.8" x2="665.4" y2="1351.8" stroke="#000" stroke-width="4.6"/>
<line x1="135.5" y1="1351.8" x2="148.5" y2="1351.8" stroke="#000" stroke-width="4.4"/>
<line x1="135.5" y1="1151.2" x2="148.5" y2="1151.2" stroke="#000" stroke-width="4.4"/>
<line x1="135.5" y1="950.6" x2="148.5" y2="950.6" stroke="#000" stroke-width="4.4"/>
<g clip-path="url(#clipC)">
<line x1="192.3" y1="1250.3" x2="192.3" y2="1344.98" stroke="#000" stroke-width="3"/>
<line x1="180.8" y1="1250.3" x2="203.8" y2="1250.3" stroke="#000" stroke-width="3"/>
<line x1="180.8" y1="1344.98" x2="203.8" y2="1344.98" stroke="#000" stroke-width="3"/>
<line x1="251.15" y1="845.89" x2="251.15" y2="1073.77" stroke="#000" stroke-width="3"/>
<line x1="239.65" y1="845.89" x2="262.65" y2="845.89" stroke="#000" stroke-width="3"/>
<line x1="239.65" y1="1073.77" x2="262.65" y2="1073.77" stroke="#000" stroke-width="3"/>
<line x1="310" y1="861.53" x2="310" y2="1086.21" stroke="#000" stroke-width="3"/>
<line x1="298.5" y1="861.53" x2="321.5" y2="861.53" stroke="#000" stroke-width="3"/>
<line x1="298.5" y1="1086.21" x2="321.5" y2="1086.21" stroke="#000" stroke-width="3"/>
<line x1="368.85" y1="692.63" x2="368.85" y2="1125.92" stroke="#000" stroke-width="3"/>
<line x1="357.35" y1="692.63" x2="380.35" y2="692.63" stroke="#000" stroke-width="3"/>
<line x1="357.35" y1="1125.92" x2="380.35" y2="1125.92" stroke="#000" stroke-width="3"/>
<line x1="427.7" y1="725.13" x2="427.7" y2="1122.31" stroke="#000" stroke-width="3"/>
<line x1="416.2" y1="725.13" x2="439.2" y2="725.13" stroke="#000" stroke-width="3"/>
<line x1="416.2" y1="1122.31" x2="439.2" y2="1122.31" stroke="#000" stroke-width="3"/>
<line x1="486.55" y1="108.08" x2="486.55" y2="1082.19" stroke="#000" stroke-width="3"/>
<line x1="475.05" y1="108.08" x2="498.05" y2="108.08" stroke="#000" stroke-width="3"/>
<line x1="475.05" y1="1082.19" x2="498.05" y2="1082.19" stroke="#000" stroke-width="3"/>
<line x1="545.4" y1="-398.64" x2="545.4" y2="1246.28" stroke="#000" stroke-width="3"/>
<line x1="533.9" y1="-398.64" x2="556.9" y2="-398.64" stroke="#000" stroke-width="3"/>
<line x1="533.9" y1="1246.28" x2="556.9" y2="1246.28" stroke="#000" stroke-width="3"/>
<line x1="604.25" y1="-898.93" x2="604.25" y2="713.89" stroke="#000" stroke-width="3"/>
<line x1="592.75" y1="-898.93" x2="615.75" y2="-898.93" stroke="#000" stroke-width="3"/>
<line x1="592.75" y1="713.89" x2="615.75" y2="713.89" stroke="#000" stroke-width="3"/>
<line x1="251.15" y1="1200.55" x2="251.15" y2="1271.96" stroke="#000" stroke-width="3"/>
<line x1="239.65" y1="1200.55" x2="262.65" y2="1200.55" stroke="#000" stroke-width="3"/>
<line x1="239.65" y1="1271.96" x2="262.65" y2="1271.96" stroke="#000" stroke-width="3"/>
<line x1="310" y1="1159.63" x2="310" y2="1261.53" stroke="#000" stroke-width="3"/>
<line x1="298.5" y1="1159.63" x2="321.5" y2="1159.63" stroke="#000" stroke-width="3"/>
<line x1="298.5" y1="1261.53" x2="321.5" y2="1261.53" stroke="#000" stroke-width="3"/>
<line x1="368.85" y1="1071.36" x2="368.85" y2="1295.23" stroke="#000" stroke-width="3"/>
<line x1="357.35" y1="1071.36" x2="380.35" y2="1071.36" stroke="#000" stroke-width="3"/>
<line x1="357.35" y1="1295.23" x2="380.35" y2="1295.23" stroke="#000" stroke-width="3"/>
<line x1="427.7" y1="1126.73" x2="427.7" y2="1312.08" stroke="#000" stroke-width="3"/>
<line x1="416.2" y1="1126.73" x2="439.2" y2="1126.73" stroke="#000" stroke-width="3"/>
<line x1="416.2" y1="1312.08" x2="439.2" y2="1312.08" stroke="#000" stroke-width="3"/>
<line x1="486.55" y1="1060.53" x2="486.55" y2="1316.49" stroke="#000" stroke-width="3"/>
<line x1="475.05" y1="1060.53" x2="498.05" y2="1060.53" stroke="#000" stroke-width="3"/>
<line x1="475.05" y1="1316.49" x2="498.05" y2="1316.49" stroke="#000" stroke-width="3"/>
<line x1="545.4" y1="1031.64" x2="545.4" y2="1318.9" stroke="#000" stroke-width="3"/>
<line x1="533.9" y1="1031.64" x2="556.9" y2="1031.64" stroke="#000" stroke-width="3"/>
<line x1="533.9" y1="1318.9" x2="556.9" y2="1318.9" stroke="#000" stroke-width="3"/>
<line x1="604.25" y1="1027.23" x2="604.25" y2="1300.85" stroke="#000" stroke-width="3"/>
<line x1="592.75" y1="1027.23" x2="615.75" y2="1027.23" stroke="#000" stroke-width="3"/>
<line x1="592.75" y1="1300.85" x2="615.75" y2="1300.85" stroke="#000" stroke-width="3"/>
<line x1="251.15" y1="1314.89" x2="251.15" y2="1324.52" stroke="#000" stroke-width="3"/>
<line x1="239.65" y1="1314.89" x2="262.65" y2="1314.89" stroke="#000" stroke-width="3"/>
<line x1="239.65" y1="1324.52" x2="262.65" y2="1324.52" stroke="#000" stroke-width="3"/>
<line x1="310" y1="1319.3" x2="310" y2="1333.75" stroke="#000" stroke-width="3"/>
<line x1="298.5" y1="1319.3" x2="321.5" y2="1319.3" stroke="#000" stroke-width="3"/>
<line x1="298.5" y1="1333.75" x2="321.5" y2="1333.75" stroke="#000" stroke-width="3"/>
<line x1="368.85" y1="1277.98" x2="368.85" y2="1339.76" stroke="#000" stroke-width="3"/>
<line x1="357.35" y1="1277.98" x2="380.35" y2="1277.98" stroke="#000" stroke-width="3"/>
<line x1="357.35" y1="1339.76" x2="380.35" y2="1339.76" stroke="#000" stroke-width="3"/>
<line x1="427.7" y1="1312.48" x2="427.7" y2="1338.16" stroke="#000" stroke-width="3"/>
<line x1="416.2" y1="1312.48" x2="439.2" y2="1312.48" stroke="#000" stroke-width="3"/>
<line x1="416.2" y1="1338.16" x2="439.2" y2="1338.16" stroke="#000" stroke-width="3"/>
<line x1="486.55" y1="1289.61" x2="486.55" y2="1319.3" stroke="#000" stroke-width="3"/>
<line x1="475.05" y1="1289.61" x2="498.05" y2="1289.61" stroke="#000" stroke-width="3"/>
<line x1="475.05" y1="1319.3" x2="498.05" y2="1319.3" stroke="#000" stroke-width="3"/>
<line x1="545.4" y1="1279.18" x2="545.4" y2="1318.5" stroke="#000" stroke-width="3"/>
<line x1="533.9" y1="1279.18" x2="556.9" y2="1279.18" stroke="#000" stroke-width="3"/>
<line x1="533.9" y1="1318.5" x2="556.9" y2="1318.5" stroke="#000" stroke-width="3"/>
<line x1="604.25" y1="1227.43" x2="604.25" y2="1290.02" stroke="#000" stroke-width="3"/>
<line x1="592.75" y1="1227.43" x2="615.75" y2="1227.43" stroke="#000" stroke-width="3"/>
<line x1="592.75" y1="1290.02" x2="615.75" y2="1290.02" stroke="#000" stroke-width="3"/>
<polyline points="192.3,1297.64 251.15,959.83 310,973.87 368.85,909.28 427.7,923.72 486.55,595.14 545.4,423.82 604.25,-92.52" fill="none" stroke="#ff0000" stroke-width="7" stroke-linejoin="round"/>
<circle cx="192.3" cy="1297.64" r="14.1" fill="#ff5a5a"/>
<circle cx="192.3" cy="1297.64" r="12.5" fill="#ff0000"/>
<circle cx="251.15" cy="959.83" r="14.1" fill="#ff5a5a"/>
<circle cx="251.15" cy="959.83" r="12.5" fill="#ff0000"/>
<circle cx="310" cy="973.87" r="14.1" fill="#ff5a5a"/>
<circle cx="310" cy="973.87" r="12.5" fill="#ff0000"/>
<circle cx="427.7" cy="923.72" r="14.1" fill="#ff5a5a"/>
<circle cx="427.7" cy="923.72" r="12.5" fill="#ff0000"/>
<polyline points="192.3,1351.8 251.15,1236.25 310,1210.58 368.85,1183.3 427.7,1219.4 486.55,1188.51 545.4,1175.27 604.25,1164.04" fill="none" stroke="#ff0000" stroke-width="7" stroke-linejoin="round"/>
<circle cx="192.3" cy="1351.8" r="12" fill="#fff" stroke="#e60000" stroke-width="3.6"/>
<circle cx="251.15" cy="1236.25" r="12" fill="#fff" stroke="#e60000" stroke-width="3.6"/>
<circle cx="310" cy="1210.58" r="12" fill="#fff" stroke="#e60000" stroke-width="3.6"/>
<circle cx="368.85" cy="1183.3" r="12" fill="#fff" stroke="#e60000" stroke-width="3.6"/>
<circle cx="427.7" cy="1219.4" r="12" fill="#fff" stroke="#e60000" stroke-width="3.6"/>
<circle cx="486.55" cy="1188.51" r="12" fill="#fff" stroke="#e60000" stroke-width="3.6"/>
<circle cx="545.4" cy="1175.27" r="12" fill="#fff" stroke="#e60000" stroke-width="3.6"/>
<circle cx="604.25" cy="1164.04" r="12" fill="#fff" stroke="#e60000" stroke-width="3.6"/>
<polyline points="192.3,1351.8 251.15,1319.7 310,1326.52 368.85,1308.87 427.7,1325.32 486.55,1304.46 545.4,1298.84 604.25,1258.72" fill="none" stroke="#0070c0" stroke-width="7" stroke-linejoin="round"/>
<polygon points="192.3,1337.55 207.05,1366.05 177.55,1366.05" fill="#0070c0"/>
<polygon points="251.15,1305.45 265.9,1333.95 236.4,1333.95" fill="#0070c0"/>
<polygon points="310,1312.27 324.75,1340.77 295.25,1340.77" fill="#0070c0"/>
<polygon points="368.85,1294.62 383.6,1323.12 354.1,1323.12" fill="#0070c0"/>
<polygon points="427.7,1311.07 442.45,1339.57 412.95,1339.57" fill="#0070c0"/>
<polygon points="486.55,1290.21 501.3,1318.71 471.8,1318.71" fill="#0070c0"/>
<polygon points="545.4,1284.59 560.15,1313.09 530.65,1313.09" fill="#0070c0"/>
<polygon points="604.25,1244.47 619,1272.97 589.5,1272.97" fill="#0070c0"/>
<polyline points="192.3,1351.8 251.15,1351.8 310,1351.8 368.85,1351.8 427.7,1351.8 486.55,1351.8 545.4,1351.8 604.25,1351.8" fill="none" stroke="#6464f5" stroke-width="8" stroke-linejoin="round"/>
<polygon points="192.3,1337.55 207.05,1366.05 177.55,1366.05" fill="#0070c0"/>
<polygon points="192.3,1345.38 201.13,1362.45 183.47,1362.45" fill="#fff"/>
<polygon points="251.15,1337.55 265.9,1366.05 236.4,1366.05" fill="#0070c0"/>
<polygon points="251.15,1345.38 259.98,1362.45 242.32,1362.45" fill="#fff"/>
<polygon points="310,1337.55 324.75,1366.05 295.25,1366.05" fill="#0070c0"/>
<polygon points="310,1345.38 318.83,1362.45 301.17,1362.45" fill="#fff"/>
<polygon points="368.85,1337.55 383.6,1366.05 354.1,1366.05" fill="#0070c0"/>
<polygon points="368.85,1345.38 377.68,1362.45 360.02,1362.45" fill="#fff"/>
<polygon points="427.7,1337.55 442.45,1366.05 412.95,1366.05" fill="#0070c0"/>
<polygon points="427.7,1345.38 436.53,1362.45 418.87,1362.45" fill="#fff"/>
<polygon points="486.55,1337.55 501.3,1366.05 471.8,1366.05" fill="#0070c0"/>
<polygon points="486.55,1345.38 495.38,1362.45 477.72,1362.45" fill="#fff"/>
<polygon points="545.4,1337.55 560.15,1366.05 530.65,1366.05" fill="#0070c0"/>
<polygon points="545.4,1345.38 554.23,1362.45 536.57,1362.45" fill="#fff"/>
<polygon points="604.25,1337.55 619,1366.05 589.5,1366.05" fill="#0070c0"/>
<polygon points="604.25,1345.38 613.08,1362.45 595.42,1362.45" fill="#fff"/>
</g>
<text transform="translate(181.7,1406.32) scale(1.0000,1)" font-size="38.02" fill="#000">0</text>
<text transform="translate(239.75,1406.7) scale(1.0000,1)" font-size="39.13" fill="#000">1</text>
<text transform="translate(299.3,1406.7) scale(1.0000,1)" font-size="38.57" fill="#000">2</text>
<text transform="translate(358.39,1406.32) scale(1.0000,1)" font-size="38.02" fill="#000">3</text>
<text transform="translate(416.94,1406.7) scale(1.0000,1)" font-size="39.13" fill="#000">4</text>
<text transform="translate(475.85,1406.31) scale(1.0000,1)" font-size="38.57" fill="#000">5</text>
<text transform="translate(534.71,1406.32) scale(1.0000,1)" font-size="38.02" fill="#000">6</text>
<text transform="translate(593.39,1406.7) scale(1.0000,1)" font-size="39.13" fill="#000">7</text>
<text transform="translate(86.01,960.75) scale(1.0879,1)" font-size="35.48" fill="#000">10</text>
<text transform="translate(107.58,1159.33) scale(0.9508,1)" font-size="37.42" fill="#000">5</text>
<text transform="translate(106.26,1354.22) scale(1.0249,1)" font-size="37.6" fill="#000">0</text>
<text transform="translate(219.56,1459.3) scale(1.0607,1)" font-size="36.6" fill="#000">Culturing period (day)</text>
<g transform="rotate(-90)">
<text transform="translate(-1278.5,31.3) scale(0.9873,1)" font-size="39.2" fill="#000">Alkenone amount</text>
</g>
<g transform="rotate(-90)">
<text transform="translate(-1254.03,81.6) scale(0.9567,1)" font-size="39.2" fill="#000">[ng (10</text>
</g>
<g transform="rotate(-90)">
<text transform="translate(-1135.35,68.1) scale(1.0673,1)" font-size="23.5" fill="#000">6</text>
</g>
<g transform="rotate(-90)">
<text transform="translate(-1113.05,81.6) scale(0.9312,1)" font-size="39.2" fill="#000">cells)</text>
</g>
<g transform="rotate(-90)">
<text transform="translate(-1026.39,68.6) scale(1.0331,1)" font-size="23.5" fill="#000">-1</text>
</g>
<g transform="rotate(-90)">
<text transform="translate(-1002.96,81.6) scale(0.8673,1)" font-size="39.2" fill="#000">]</text>
</g>
<line x1="814.2" y1="902.4" x2="814.2" y2="1361.6" stroke="#000" stroke-width="4.6"/>
<line x1="1344.6" y1="902.4" x2="1344.6" y2="1361.6" stroke="#000" stroke-width="4.6"/>
<line x1="811.9" y1="1359.3" x2="1346.9" y2="1359.3" stroke="#000" stroke-width="4.6"/>
<line x1="814.2" y1="1359.3" x2="827.2" y2="1359.3" stroke="#000" stroke-width="4.4"/>
<line x1="814.2" y1="1152.05" x2="827.2" y2="1152.05" stroke="#000" stroke-width="4.4"/>
<line x1="814.2" y1="944.8" x2="827.2" y2="944.8" stroke="#000" stroke-width="4.4"/>
<line x1="1108.1" y1="1347.3" x2="1108.1" y2="1359.3" stroke="#000" stroke-width="4.6"/>
<line x1="1167.05" y1="1347.3" x2="1167.05" y2="1359.3" stroke="#000" stroke-width="4.6"/>
<line x1="1226" y1="1347.3" x2="1226" y2="1359.3" stroke="#000" stroke-width="4.6"/>
<line x1="1284.95" y1="1347.3" x2="1284.95" y2="1359.3" stroke="#000" stroke-width="4.6"/>
<g clip-path="url(#clipD)">
<line x1="872.3" y1="1269.35" x2="872.3" y2="1338.99" stroke="#000" stroke-width="3"/>
<line x1="860.8" y1="1269.35" x2="883.8" y2="1269.35" stroke="#000" stroke-width="3"/>
<line x1="860.8" y1="1338.99" x2="883.8" y2="1338.99" stroke="#000" stroke-width="3"/>
<line x1="931.25" y1="859" x2="931.25" y2="1049.67" stroke="#000" stroke-width="3"/>
<line x1="919.75" y1="859" x2="942.75" y2="859" stroke="#000" stroke-width="3"/>
<line x1="919.75" y1="1049.67" x2="942.75" y2="1049.67" stroke="#000" stroke-width="3"/>
<line x1="990.2" y1="873.51" x2="990.2" y2="1061.69" stroke="#000" stroke-width="3"/>
<line x1="978.7" y1="873.51" x2="1001.7" y2="873.51" stroke="#000" stroke-width="3"/>
<line x1="978.7" y1="1061.69" x2="1001.7" y2="1061.69" stroke="#000" stroke-width="3"/>
<line x1="1049.15" y1="718.9" x2="1049.15" y2="1085.32" stroke="#000" stroke-width="3"/>
<line x1="1037.65" y1="718.9" x2="1060.65" y2="718.9" stroke="#000" stroke-width="3"/>
<line x1="1037.65" y1="1085.32" x2="1060.65" y2="1085.32" stroke="#000" stroke-width="3"/>
<line x1="1108.1" y1="713.51" x2="1108.1" y2="1121.38" stroke="#000" stroke-width="3"/>
<line x1="1096.6" y1="713.51" x2="1119.6" y2="713.51" stroke="#000" stroke-width="3"/>
<line x1="1096.6" y1="1121.38" x2="1119.6" y2="1121.38" stroke="#000" stroke-width="3"/>
<line x1="1167.05" y1="796.41" x2="1167.05" y2="1152.88" stroke="#000" stroke-width="3"/>
<line x1="1155.55" y1="796.41" x2="1178.55" y2="796.41" stroke="#000" stroke-width="3"/>
<line x1="1155.55" y1="1152.88" x2="1178.55" y2="1152.88" stroke="#000" stroke-width="3"/>
<line x1="1226" y1="828.74" x2="1226" y2="1098.99" stroke="#000" stroke-width="3"/>
<line x1="1214.5" y1="828.74" x2="1237.5" y2="828.74" stroke="#000" stroke-width="3"/>
<line x1="1214.5" y1="1098.99" x2="1237.5" y2="1098.99" stroke="#000" stroke-width="3"/>
<line x1="1284.95" y1="689.05" x2="1284.95" y2="1051.33" stroke="#000" stroke-width="3"/>
<line x1="1273.45" y1="689.05" x2="1296.45" y2="689.05" stroke="#000" stroke-width="3"/>
<line x1="1273.45" y1="1051.33" x2="1296.45" y2="1051.33" stroke="#000" stroke-width="3"/>
<line x1="931.25" y1="1204.69" x2="931.25" y2="1265.21" stroke="#000" stroke-width="3"/>
<line x1="919.75" y1="1204.69" x2="942.75" y2="1204.69" stroke="#000" stroke-width="3"/>
<line x1="919.75" y1="1265.21" x2="942.75" y2="1265.21" stroke="#000" stroke-width="3"/>
<line x1="990.2" y1="1167.8" x2="990.2" y2="1254.85" stroke="#000" stroke-width="3"/>
<line x1="978.7" y1="1167.8" x2="1001.7" y2="1167.8" stroke="#000" stroke-width="3"/>
<line x1="978.7" y1="1254.85" x2="1001.7" y2="1254.85" stroke="#000" stroke-width="3"/>
<line x1="1049.15" y1="1092.78" x2="1049.15" y2="1275.16" stroke="#000" stroke-width="3"/>
<line x1="1037.65" y1="1092.78" x2="1060.65" y2="1092.78" stroke="#000" stroke-width="3"/>
<line x1="1037.65" y1="1275.16" x2="1060.65" y2="1275.16" stroke="#000" stroke-width="3"/>
<line x1="1108.1" y1="1137.54" x2="1108.1" y2="1276.81" stroke="#000" stroke-width="3"/>
<line x1="1096.6" y1="1137.54" x2="1119.6" y2="1137.54" stroke="#000" stroke-width="3"/>
<line x1="1096.6" y1="1276.81" x2="1119.6" y2="1276.81" stroke="#000" stroke-width="3"/>
<line x1="1167.05" y1="1188.11" x2="1167.05" y2="1312.46" stroke="#000" stroke-width="3"/>
<line x1="1155.55" y1="1188.11" x2="1178.55" y2="1188.11" stroke="#000" stroke-width="3"/>
<line x1="1155.55" y1="1312.46" x2="1178.55" y2="1312.46" stroke="#000" stroke-width="3"/>
<line x1="1226" y1="1250.29" x2="1226" y2="1306.66" stroke="#000" stroke-width="3"/>
<line x1="1214.5" y1="1250.29" x2="1237.5" y2="1250.29" stroke="#000" stroke-width="3"/>
<line x1="1214.5" y1="1306.66" x2="1237.5" y2="1306.66" stroke="#000" stroke-width="3"/>
<line x1="1284.95" y1="1268.94" x2="1284.95" y2="1312.05" stroke="#000" stroke-width="3"/>
<line x1="1273.45" y1="1268.94" x2="1296.45" y2="1268.94" stroke="#000" stroke-width="3"/>
<line x1="1273.45" y1="1312.05" x2="1296.45" y2="1312.05" stroke="#000" stroke-width="3"/>
<line x1="931.25" y1="1319.92" x2="931.25" y2="1332.36" stroke="#000" stroke-width="3"/>
<line x1="919.75" y1="1319.92" x2="942.75" y2="1319.92" stroke="#000" stroke-width="3"/>
<line x1="919.75" y1="1332.36" x2="942.75" y2="1332.36" stroke="#000" stroke-width="3"/>
<line x1="990.2" y1="1325.73" x2="990.2" y2="1338.16" stroke="#000" stroke-width="3"/>
<line x1="978.7" y1="1325.73" x2="1001.7" y2="1325.73" stroke="#000" stroke-width="3"/>
<line x1="978.7" y1="1338.16" x2="1001.7" y2="1338.16" stroke="#000" stroke-width="3"/>
<line x1="1049.15" y1="1290.08" x2="1049.15" y2="1343.96" stroke="#000" stroke-width="3"/>
<line x1="1037.65" y1="1290.08" x2="1060.65" y2="1290.08" stroke="#000" stroke-width="3"/>
<line x1="1037.65" y1="1343.96" x2="1060.65" y2="1343.96" stroke="#000" stroke-width="3"/>
<line x1="1108.1" y1="1111.84" x2="1108.1" y2="1301.68" stroke="#000" stroke-width="3"/>
<line x1="1096.6" y1="1111.84" x2="1119.6" y2="1111.84" stroke="#000" stroke-width="3"/>
<line x1="1096.6" y1="1301.68" x2="1119.6" y2="1301.68" stroke="#000" stroke-width="3"/>
<line x1="1167.05" y1="836.62" x2="1167.05" y2="1193.09" stroke="#000" stroke-width="3"/>
<line x1="1155.55" y1="836.62" x2="1178.55" y2="836.62" stroke="#000" stroke-width="3"/>
<line x1="1155.55" y1="1193.09" x2="1178.55" y2="1193.09" stroke="#000" stroke-width="3"/>
<line x1="1226" y1="535.27" x2="1226" y2="1036.82" stroke="#000" stroke-width="3"/>
<line x1="1214.5" y1="535.27" x2="1237.5" y2="535.27" stroke="#000" stroke-width="3"/>
<line x1="1214.5" y1="1036.82" x2="1237.5" y2="1036.82" stroke="#000" stroke-width="3"/>
<line x1="1284.95" y1="32.9" x2="1284.95" y2="886.77" stroke="#000" stroke-width="3"/>
<line x1="1273.45" y1="32.9" x2="1296.45" y2="32.9" stroke="#000" stroke-width="3"/>
<line x1="1273.45" y1="886.77" x2="1296.45" y2="886.77" stroke="#000" stroke-width="3"/>
<line x1="1108.1" y1="1292.57" x2="1108.1" y2="1338.99" stroke="#000" stroke-width="3"/>
<line x1="1096.6" y1="1292.57" x2="1119.6" y2="1292.57" stroke="#000" stroke-width="3"/>
<line x1="1096.6" y1="1338.99" x2="1119.6" y2="1338.99" stroke="#000" stroke-width="3"/>
<line x1="1167.05" y1="1234.95" x2="1167.05" y2="1329.46" stroke="#000" stroke-width="3"/>
<line x1="1155.55" y1="1234.95" x2="1178.55" y2="1234.95" stroke="#000" stroke-width="3"/>
<line x1="1155.55" y1="1329.46" x2="1178.55" y2="1329.46" stroke="#000" stroke-width="3"/>
<line x1="1226" y1="1220.03" x2="1226" y2="1302.93" stroke="#000" stroke-width="3"/>
<line x1="1214.5" y1="1220.03" x2="1237.5" y2="1220.03" stroke="#000" stroke-width="3"/>
<line x1="1214.5" y1="1302.93" x2="1237.5" y2="1302.93" stroke="#000" stroke-width="3"/>
<line x1="1284.95" y1="1203.86" x2="1284.95" y2="1290.91" stroke="#000" stroke-width="3"/>
<line x1="1273.45" y1="1203.86" x2="1296.45" y2="1203.86" stroke="#000" stroke-width="3"/>
<line x1="1273.45" y1="1290.91" x2="1296.45" y2="1290.91" stroke="#000" stroke-width="3"/>
<polyline points="872.3,1304.17 931.25,954.33 990.2,967.6 1049.15,902.11 1108.1,917.44 1167.05,974.64 1226,963.87 1284.95,870.19" fill="none" stroke="#ff0000" stroke-width="7" stroke-linejoin="round"/>
<circle cx="872.3" cy="1304.17" r="14.1" fill="#ff0000"/>
<circle cx="931.25" cy="954.33" r="14.1" fill="#ff0000"/>
<circle cx="990.2" cy="967.6" r="14.1" fill="#ff0000"/>
<circle cx="1108.1" cy="917.44" r="14.1" fill="#ff0000"/>
<circle cx="1167.05" cy="974.64" r="14.1" fill="#ff0000"/>
<circle cx="1226" cy="963.87" r="14.1" fill="#ff0000"/>
<polyline points="872.3,1359.3 931.25,1234.95 990.2,1211.32 1049.15,1183.97 1108.1,1207.18 1167.05,1250.29 1226,1278.47 1284.95,1290.49" fill="none" stroke="#ff0000" stroke-width="7" stroke-linejoin="round"/>
<circle cx="872.3" cy="1359.3" r="12" fill="#fff" stroke="#e60000" stroke-width="3.6"/>
<circle cx="931.25" cy="1234.95" r="12" fill="#fff" stroke="#e60000" stroke-width="3.6"/>
<circle cx="990.2" cy="1211.32" r="12" fill="#fff" stroke="#e60000" stroke-width="3.6"/>
<circle cx="1049.15" cy="1183.97" r="12" fill="#fff" stroke="#e60000" stroke-width="3.6"/>
<circle cx="1108.1" cy="1207.18" r="12" fill="#fff" stroke="#e60000" stroke-width="3.6"/>
<circle cx="1167.05" cy="1250.29" r="12" fill="#fff" stroke="#e60000" stroke-width="3.6"/>
<circle cx="1226" cy="1278.47" r="12" fill="#fff" stroke="#e60000" stroke-width="3.6"/>
<circle cx="1284.95" cy="1290.49" r="12" fill="#fff" stroke="#e60000" stroke-width="3.6"/>
<polyline points="872.3,1359.3 931.25,1326.14 990.2,1331.94 1049.15,1317.02 1108.1,1206.76 1167.05,1014.85 1226,786.05 1284.95,459.83" fill="none" stroke="#0070c0" stroke-width="7" stroke-linejoin="round"/>
<polygon points="872.3,1345.05 887.05,1373.55 857.55,1373.55" fill="#0070c0"/>
<polygon points="931.25,1311.89 946,1340.39 916.5,1340.39" fill="#0070c0"/>
<polygon points="990.2,1317.69 1004.95,1346.19 975.45,1346.19" fill="#0070c0"/>
<polygon points="1049.15,1302.77 1063.9,1331.27 1034.4,1331.27" fill="#0070c0"/>
<polygon points="1108.1,1192.51 1122.85,1221.01 1093.35,1221.01" fill="#0070c0"/>
<polygon points="1167.05,1000.6 1181.8,1029.1 1152.3,1029.1" fill="#0070c0"/>
<polyline points="872.3,1359.3 931.25,1359.3 990.2,1359.3 1049.15,1359.3 1108.1,1315.78 1167.05,1282.2 1226,1261.48 1284.95,1247.38" fill="none" stroke="#0070c0" stroke-width="7" stroke-linejoin="round"/>
<polygon points="872.3,1345.05 887.05,1373.55 857.55,1373.55" fill="#0070c0"/>
<polygon points="872.3,1352.88 881.13,1369.95 863.47,1369.95" fill="#fff"/>
<polygon points="931.25,1345.05 946,1373.55 916.5,1373.55" fill="#0070c0"/>
<polygon points="931.25,1352.88 940.08,1369.95 922.42,1369.95" fill="#fff"/>
<polygon points="990.2,1345.05 1004.95,1373.55 975.45,1373.55" fill="#0070c0"/>
<polygon points="990.2,1352.88 999.03,1369.95 981.37,1369.95" fill="#fff"/>
<polygon points="1049.15,1345.05 1063.9,1373.55 1034.4,1373.55" fill="#0070c0"/>
<polygon points="1049.15,1352.88 1057.98,1369.95 1040.32,1369.95" fill="#fff"/>
<polygon points="1108.1,1301.53 1122.85,1330.03 1093.35,1330.03" fill="#0070c0"/>
<polygon points="1108.1,1309.36 1116.93,1326.43 1099.27,1326.43" fill="#fff"/>
<polygon points="1167.05,1267.95 1181.8,1296.45 1152.3,1296.45" fill="#0070c0"/>
<polygon points="1167.05,1275.79 1175.88,1292.85 1158.22,1292.85" fill="#fff"/>
<polygon points="1226,1247.23 1240.75,1275.73 1211.25,1275.73" fill="#0070c0"/>
<polygon points="1226,1255.06 1234.83,1272.13 1217.17,1272.13" fill="#fff"/>
<polygon points="1284.95,1233.13 1299.7,1261.63 1270.2,1261.63" fill="#0070c0"/>
<polygon points="1284.95,1240.97 1293.78,1258.03 1276.12,1258.03" fill="#fff"/>
</g>
<text transform="translate(861.7,1406.32) scale(1.0000,1)" font-size="38.02" fill="#000">0</text>
<text transform="translate(919.85,1406.7) scale(1.0000,1)" font-size="39.13" fill="#000">1</text>
<text transform="translate(979.5,1406.7) scale(1.0000,1)" font-size="38.57" fill="#000">2</text>
<text transform="translate(1038.69,1406.32) scale(1.0000,1)" font-size="38.02" fill="#000">3</text>
<text transform="translate(1097.34,1406.7) scale(1.0000,1)" font-size="39.13" fill="#000">4</text>
<text transform="translate(1156.35,1406.31) scale(1.0000,1)" font-size="38.57" fill="#000">5</text>
<text transform="translate(1215.31,1406.32) scale(1.0000,1)" font-size="38.02" fill="#000">6</text>
<text transform="translate(1274.09,1406.7) scale(1.0000,1)" font-size="39.13" fill="#000">7</text>
<text transform="translate(765.77,960.92) scale(1.0026,1)" font-size="37.6" fill="#000">10</text>
<text transform="translate(786.98,1159.32) scale(0.9400,1)" font-size="37.85" fill="#000">5</text>
<text transform="translate(786.04,1354.32) scale(1.0322,1)" font-size="37.74" fill="#000">0</text>
<text transform="translate(893.06,1460.8) scale(1.0587,1)" font-size="36.6" fill="#000">Culturing period (day)</text>
<g transform="rotate(-90)">
<text transform="translate(-1278.5,711.3) scale(0.9873,1)" font-size="39.2" fill="#000">Alkenone amount</text>
</g>
<g transform="rotate(-90)">
<text transform="translate(-1254.03,761.6) scale(0.9567,1)" font-size="39.2" fill="#000">[ng (10</text>
</g>
<g transform="rotate(-90)">
<text transform="translate(-1135.35,748.1) scale(1.0673,1)" font-size="23.5" fill="#000">6</text>
</g>
<g transform="rotate(-90)">
<text transform="translate(-1113.05,761.6) scale(0.9312,1)" font-size="39.2" fill="#000">cells)</text>
</g>
<g transform="rotate(-90)">
<text transform="translate(-1026.39,748.6) scale(1.0331,1)" font-size="23.5" fill="#000">-1</text>
</g>
<g transform="rotate(-90)">
<text transform="translate(-1002.96,761.6) scale(0.8673,1)" font-size="39.2" fill="#000">]</text>
</g>
<line x1="204.2" y1="1625.5" x2="204.2" y2="2071.8" stroke="#000" stroke-width="4.6"/>
<line x1="663.6" y1="1625.5" x2="663.6" y2="2071.8" stroke="#000" stroke-width="4.6"/>
<line x1="204.2" y1="2068.2" x2="217.2" y2="2068.2" stroke="#000" stroke-width="4.4"/>
<line x1="204.2" y1="1883.45" x2="217.2" y2="1883.45" stroke="#000" stroke-width="4.4"/>
<line x1="204.2" y1="1698.7" x2="217.2" y2="1698.7" stroke="#000" stroke-width="4.4"/>
<line x1="261.79" y1="2057.5" x2="261.79" y2="2069.5" stroke="#000" stroke-width="4.4"/>
<line x1="319.17" y1="2057.5" x2="319.17" y2="2069.5" stroke="#000" stroke-width="4.4"/>
<line x1="376.55" y1="2057.5" x2="376.55" y2="2069.5" stroke="#000" stroke-width="4.4"/>
<line x1="433.93" y1="2057.5" x2="433.93" y2="2069.5" stroke="#000" stroke-width="4.4"/>
<line x1="491.31" y1="2057.5" x2="491.31" y2="2069.5" stroke="#000" stroke-width="4.4"/>
<line x1="548.69" y1="2057.5" x2="548.69" y2="2069.5" stroke="#000" stroke-width="4.4"/>
<line x1="606.07" y1="2057.5" x2="606.07" y2="2069.5" stroke="#000" stroke-width="4.4"/>
<line x1="434.1" y1="1632" x2="434.1" y2="2060" stroke="#858585" stroke-width="2.8" stroke-dasharray="8.5,4.5"/>
<rect x="277.48" y="1963.08" width="26" height="105.12" fill="url(#chk)" stroke="#ef3434" stroke-width="2.6"/>
<rect x="334.86" y="1939.07" width="26" height="129.13" fill="url(#chk)" stroke="#ef3434" stroke-width="2.6"/>
<rect x="392.24" y="1913.2" width="26" height="155" fill="url(#chk)" stroke="#ef3434" stroke-width="2.6"/>
<rect x="449.62" y="1935.74" width="26" height="132.46" fill="url(#chk)" stroke="#ef3434" stroke-width="2.6"/>
<rect x="449.62" y="1893.62" width="26" height="40.82" fill="url(#dia)" stroke="#6060f2" stroke-width="2.6"/>
<rect x="507" y="1976.39" width="26" height="91.81" fill="url(#chk)" stroke="#ef3434" stroke-width="2.6"/>
<rect x="507" y="1904.33" width="26" height="70.75" fill="url(#dia)" stroke="#6060f2" stroke-width="2.6"/>
<rect x="564.38" y="1998.93" width="26" height="69.27" fill="url(#chk)" stroke="#ef3434" stroke-width="2.6"/>
<rect x="564.38" y="1909.14" width="26" height="88.49" fill="url(#dia)" stroke="#6060f2" stroke-width="2.6"/>
<rect x="621.76" y="2011.12" width="26" height="57.08" fill="url(#chk)" stroke="#ef3434" stroke-width="2.6"/>
<rect x="621.76" y="1908.4" width="26" height="101.42" fill="url(#dia)" stroke="#6060f2" stroke-width="2.6"/>
<line x1="201.9" y1="2069.5" x2="665.9" y2="2069.5" stroke="#000" stroke-width="4.6"/>
<line x1="290.48" y1="1934.81" x2="290.48" y2="1988.76" stroke="#000" stroke-width="3.4"/>
<line x1="278.98" y1="1934.81" x2="301.98" y2="1934.81" stroke="#000" stroke-width="3.6"/>
<line x1="278.98" y1="1988.76" x2="301.98" y2="1988.76" stroke="#000" stroke-width="3.6"/>
<line x1="347.86" y1="1899.34" x2="347.86" y2="1976.19" stroke="#000" stroke-width="3.4"/>
<line x1="336.36" y1="1899.34" x2="359.36" y2="1899.34" stroke="#000" stroke-width="3.6"/>
<line x1="336.36" y1="1976.19" x2="359.36" y2="1976.19" stroke="#000" stroke-width="3.6"/>
<line x1="405.24" y1="1827.66" x2="405.24" y2="1996.15" stroke="#000" stroke-width="3.4"/>
<line x1="393.74" y1="1827.66" x2="416.74" y2="1827.66" stroke="#000" stroke-width="3.6"/>
<line x1="393.74" y1="1996.15" x2="416.74" y2="1996.15" stroke="#000" stroke-width="3.6"/>
<line x1="462.62" y1="1850.93" x2="462.62" y2="2017.95" stroke="#000" stroke-width="3.4"/>
<line x1="451.12" y1="1850.93" x2="474.12" y2="1850.93" stroke="#000" stroke-width="3.6"/>
<line x1="451.12" y1="2017.95" x2="474.12" y2="2017.95" stroke="#000" stroke-width="3.6"/>
<line x1="462.62" y1="1870.89" x2="462.62" y2="1913.75" stroke="#000" stroke-width="3.4"/>
<line x1="451.12" y1="1870.89" x2="474.12" y2="1870.89" stroke="#000" stroke-width="3.6"/>
<line x1="451.12" y1="1913.75" x2="474.12" y2="1913.75" stroke="#000" stroke-width="3.6"/>
<line x1="520" y1="1919.29" x2="520" y2="2030.88" stroke="#000" stroke-width="3.4"/>
<line x1="508.5" y1="1919.29" x2="531.5" y2="1919.29" stroke="#000" stroke-width="3.6"/>
<line x1="508.5" y1="2030.88" x2="531.5" y2="2030.88" stroke="#000" stroke-width="3.6"/>
<line x1="520" y1="1860.91" x2="520" y2="1945.16" stroke="#000" stroke-width="3.4"/>
<line x1="508.5" y1="1860.91" x2="531.5" y2="1860.91" stroke="#000" stroke-width="3.6"/>
<line x1="508.5" y1="1945.16" x2="531.5" y2="1945.16" stroke="#000" stroke-width="3.6"/>
<line x1="577.38" y1="1972.87" x2="577.38" y2="2022.38" stroke="#000" stroke-width="3.4"/>
<line x1="565.88" y1="1972.87" x2="588.88" y2="1972.87" stroke="#000" stroke-width="3.6"/>
<line x1="565.88" y1="2022.38" x2="588.88" y2="2022.38" stroke="#000" stroke-width="3.6"/>
<line x1="577.38" y1="1871.63" x2="577.38" y2="1944.05" stroke="#000" stroke-width="3.4"/>
<line x1="565.88" y1="1871.63" x2="588.88" y2="1871.63" stroke="#000" stroke-width="3.6"/>
<line x1="565.88" y1="1944.05" x2="588.88" y2="1944.05" stroke="#000" stroke-width="3.6"/>
<line x1="634.76" y1="1990.24" x2="634.76" y2="2029.4" stroke="#000" stroke-width="3.4"/>
<line x1="623.26" y1="1990.24" x2="646.26" y2="1990.24" stroke="#000" stroke-width="3.6"/>
<line x1="623.26" y1="2029.4" x2="646.26" y2="2029.4" stroke="#000" stroke-width="3.6"/>
<line x1="634.76" y1="1869.04" x2="634.76" y2="1945.16" stroke="#000" stroke-width="3.4"/>
<line x1="623.26" y1="1869.04" x2="646.26" y2="1869.04" stroke="#000" stroke-width="3.6"/>
<line x1="623.26" y1="1945.16" x2="646.26" y2="1945.16" stroke="#000" stroke-width="3.6"/>
<line x1="278.98" y1="1961.78" x2="301.98" y2="1961.78" stroke="#000" stroke-width="3.6"/>
<line x1="336.36" y1="1937.77" x2="359.36" y2="1937.77" stroke="#000" stroke-width="3.6"/>
<line x1="393.74" y1="1911.9" x2="416.74" y2="1911.9" stroke="#000" stroke-width="3.6"/>
<text transform="translate(222.46,2114.42) scale(1.0000,1)" font-size="38.16" fill="#000">0</text>
<text transform="translate(279.04,2114.8) scale(1.0000,1)" font-size="39.27" fill="#000">1</text>
<text transform="translate(337.12,2114.8) scale(1.0000,1)" font-size="38.71" fill="#000">2</text>
<text transform="translate(394.75,2114.42) scale(1.0000,1)" font-size="38.16" fill="#000">3</text>
<text transform="translate(451.82,2114.8) scale(1.0000,1)" font-size="39.27" fill="#000">4</text>
<text transform="translate(509.26,2114.41) scale(1.0000,1)" font-size="38.71" fill="#000">5</text>
<text transform="translate(566.65,2114.42) scale(1.0000,1)" font-size="38.16" fill="#000">6</text>
<text transform="translate(623.86,2114.8) scale(1.0000,1)" font-size="39.27" fill="#000">7</text>
<line x1="221.5" y1="2066.5" x2="244.5" y2="2066.5" stroke="#000" stroke-width="3"/>
<text transform="translate(140.23,1708.02) scale(0.9998,1)" font-size="38.3" fill="#000">10</text>
<text transform="translate(162.19,1896.52) scale(0.9240,1)" font-size="38.28" fill="#000">5</text>
<text transform="translate(161.58,2080.32) scale(1.0100,1)" font-size="37.74" fill="#000">0</text>
<text transform="translate(250.47,2184.2) scale(1.0567,1)" font-size="36.6" fill="#000">Culturing period (day)</text>
<line x1="877" y1="1625.5" x2="877" y2="2071.8" stroke="#000" stroke-width="4.6"/>
<line x1="1337" y1="1625.5" x2="1337" y2="2071.8" stroke="#000" stroke-width="4.6"/>
<line x1="877" y1="2068.2" x2="890" y2="2068.2" stroke="#000" stroke-width="4.4"/>
<line x1="877" y1="1884.6" x2="890" y2="1884.6" stroke="#000" stroke-width="4.4"/>
<line x1="877" y1="1701" x2="890" y2="1701" stroke="#000" stroke-width="4.4"/>
<line x1="934.77" y1="2057.5" x2="934.77" y2="2069.5" stroke="#000" stroke-width="4.4"/>
<line x1="992.31" y1="2057.5" x2="992.31" y2="2069.5" stroke="#000" stroke-width="4.4"/>
<line x1="1049.85" y1="2057.5" x2="1049.85" y2="2069.5" stroke="#000" stroke-width="4.4"/>
<line x1="1107.39" y1="2057.5" x2="1107.39" y2="2069.5" stroke="#000" stroke-width="4.4"/>
<line x1="1164.93" y1="2057.5" x2="1164.93" y2="2069.5" stroke="#000" stroke-width="4.4"/>
<line x1="1222.47" y1="2057.5" x2="1222.47" y2="2069.5" stroke="#000" stroke-width="4.4"/>
<line x1="1280.01" y1="2057.5" x2="1280.01" y2="2069.5" stroke="#000" stroke-width="4.4"/>
<line x1="1107.3" y1="1631" x2="1107.3" y2="2060" stroke="#858585" stroke-width="2.8" stroke-dasharray="8.5,4.5"/>
<rect x="892.55" y="1702.3" width="26.9" height="365.9" fill="url(#chk)" stroke="#ef3434" stroke-width="2.6"/>
<rect x="950.09" y="1702.3" width="26.9" height="365.9" fill="url(#chk)" stroke="#ef3434" stroke-width="2.6"/>
<rect x="1007.63" y="1702.3" width="26.9" height="365.9" fill="url(#chk)" stroke="#ef3434" stroke-width="2.6"/>
<rect x="1065.17" y="1702.3" width="26.9" height="365.9" fill="url(#chk)" stroke="#ef3434" stroke-width="2.6"/>
<rect x="1122.71" y="1787.12" width="26.9" height="281.08" fill="url(#chk)" stroke="#ef3434" stroke-width="2.6"/>
<rect x="1122.71" y="1702.3" width="26.9" height="83.52" fill="url(#dia)" stroke="#6060f2" stroke-width="2.6"/>
<rect x="1180.25" y="1857.63" width="26.9" height="210.57" fill="url(#chk)" stroke="#ef3434" stroke-width="2.6"/>
<rect x="1180.25" y="1702.3" width="26.9" height="154.03" fill="url(#dia)" stroke="#6060f2" stroke-width="2.6"/>
<rect x="1237.79" y="1905.73" width="26.9" height="162.47" fill="url(#chk)" stroke="#ef3434" stroke-width="2.6"/>
<rect x="1237.79" y="1702.3" width="26.9" height="202.13" fill="url(#dia)" stroke="#6060f2" stroke-width="2.6"/>
<rect x="1295.33" y="1932.9" width="26.9" height="135.3" fill="url(#chk)" stroke="#ef3434" stroke-width="2.6"/>
<rect x="1295.33" y="1702.3" width="26.9" height="229.3" fill="url(#dia)" stroke="#6060f2" stroke-width="2.6"/>
<line x1="874.7" y1="2069.5" x2="1339.3" y2="2069.5" stroke="#000" stroke-width="4.6"/>
<text transform="translate(895.36,2114.42) scale(1.0000,1)" font-size="38.16" fill="#000">0</text>
<text transform="translate(952.1,2114.8) scale(1.0000,1)" font-size="39.27" fill="#000">1</text>
<text transform="translate(1010.34,2114.8) scale(1.0000,1)" font-size="38.71" fill="#000">2</text>
<text transform="translate(1068.13,2114.42) scale(1.0000,1)" font-size="38.16" fill="#000">3</text>
<text transform="translate(1125.36,2114.8) scale(1.0000,1)" font-size="39.27" fill="#000">4</text>
<text transform="translate(1182.96,2114.41) scale(1.0000,1)" font-size="38.71" fill="#000">5</text>
<text transform="translate(1240.51,2114.42) scale(1.0000,1)" font-size="38.16" fill="#000">6</text>
<text transform="translate(1297.88,2114.8) scale(1.0000,1)" font-size="39.27" fill="#000">7</text>
<line x1="877" y1="1701" x2="1337" y2="1701" stroke="#000" stroke-width="1.8"/>
<text transform="translate(799.37,1713.82) scale(1.0040,1)" font-size="37.6" fill="#000">100</text>
<text transform="translate(820.29,1879.62) scale(1.0035,1)" font-size="37.74" fill="#000">50</text>
<text transform="translate(840.63,2080.32) scale(1.0377,1)" font-size="37.74" fill="#000">0</text>
<text transform="translate(923.67,2184.2) scale(1.0570,1)" font-size="36.6" fill="#000">Culturing period (day)</text>
<g transform="rotate(-90)">
<text transform="translate(-2016.26,779.1) scale(0.9786,1)" font-size="39.2" fill="#000">Relative amount</text>
</g>
<g transform="rotate(-90)">
<text transform="translate(-1725.58,779.1) scale(0.9031,1)" font-size="39.2" fill="#000">[%]</text>
</g>
<g transform="rotate(-90)">
<text transform="translate(-2033.9,68.5) scale(0.9891,1)" font-size="39.2" fill="#000">Amounts of</text>
</g>
<g transform="rotate(-90)">
<text transform="translate(-1826.91,56) scale(1.0290,1)" font-size="23.5" fill="#000">13</text>
</g>
<g transform="rotate(-90)">
<text transform="translate(-1799.25,68.5) scale(0.8437,1)" font-size="39.2" fill="#000">C-K</text>
</g>
<g transform="rotate(-90)">
<text transform="translate(-1741.64,78.6) scale(1.0698,1)" font-size="23.5" fill="#000">37:2</text>
</g>
<g transform="rotate(-90)">
<text transform="translate(-1681.49,68.5) scale(1.0163,1)" font-size="39.2" fill="#000">&</text>
</g>
<g transform="rotate(-90)">
<text transform="translate(-2048.22,106.1) scale(1.0333,1)" font-size="23.5" fill="#000">13</text>
</g>
<g transform="rotate(-90)">
<text transform="translate(-2020.02,118.6) scale(0.8283,1)" font-size="39.2" fill="#000">C-K</text>
</g>
<g transform="rotate(-90)">
<text transform="translate(-1963.54,128.7) scale(1.0655,1)" font-size="23.5" fill="#000">37:3</text>
</g>
<g transform="rotate(-90)">
<text transform="translate(-1902.43,118.6) scale(0.9567,1)" font-size="39.2" fill="#000">[ng (10</text>
</g>
<g transform="rotate(-90)">
<text transform="translate(-1783.75,105.1) scale(1.0673,1)" font-size="23.5" fill="#000">6</text>
</g>
<g transform="rotate(-90)">
<text transform="translate(-1761.45,118.6) scale(0.9312,1)" font-size="39.2" fill="#000">cells)</text>
</g>
<g transform="rotate(-90)">
<text transform="translate(-1674.79,105.6) scale(1.0331,1)" font-size="23.5" fill="#000">-1</text>
</g>
<g transform="rotate(-90)">
<text transform="translate(-1651.36,118.6) scale(0.8673,1)" font-size="39.2" fill="#000">]</text>
</g>
<rect x="128.2" y="23.4" width="543.3" height="45.5" fill="#000"/>
<text transform="translate(369.54,58.2) scale(0.9556,1)" font-size="28.6" font-weight="bold" fill="#fff">25</text>
<text transform="translate(412.09,58.2) scale(0.8056,1)" font-size="28.6" font-weight="bold" fill="#fff">C</text>
<circle cx="406.38" cy="39.2" r="2.25" fill="none" stroke="#fff" stroke-width="1.9"/>
<rect x="811.4" y="23.4" width="535.6" height="45.5" fill="#000"/>
<rect x="1050.8" y="28.9" width="290.6" height="33.5" fill="#fff"/>
<text transform="translate(899.74,58.4) scale(0.9572,1)" font-size="28.6" font-weight="bold" fill="#fff">25</text>
<text transform="translate(942.36,58.4) scale(0.8070,1)" font-size="28.6" font-weight="bold" fill="#fff">C</text>
<circle cx="936.65" cy="39.4" r="2.25" fill="none" stroke="#fff" stroke-width="1.9"/>
<text transform="translate(1164.56,58.5) scale(0.9711,1)" font-size="28.6" font-weight="bold" fill="#000">15</text>
<text transform="translate(1207.45,58.5) scale(0.7972,1)" font-size="28.6" font-weight="bold" fill="#000">C</text>
<circle cx="1201.81" cy="39.5" r="2.25" fill="none" stroke="#000" stroke-width="1.9"/>
<rect x="132.4" y="866.4" width="532.9" height="46.6" fill="#000"/>
<text transform="translate(366.73,898) scale(0.9705,1)" font-size="28.6" font-weight="bold" fill="#fff">25</text>
<text transform="translate(409.94,898) scale(0.8182,1)" font-size="28.6" font-weight="bold" fill="#fff">C</text>
<circle cx="404.15" cy="879" r="2.25" fill="none" stroke="#fff" stroke-width="1.9"/>
<rect x="811.2" y="858.8" width="534.4" height="45.6" fill="#000"/>
<rect x="1050.5" y="864.2" width="289.9" height="33" fill="#fff"/>
<text transform="translate(898.63,894.4) scale(0.9655,1)" font-size="28.6" font-weight="bold" fill="#fff">25</text>
<text transform="translate(941.62,894.4) scale(0.8140,1)" font-size="28.6" font-weight="bold" fill="#fff">C</text>
<circle cx="935.86" cy="875.4" r="2.25" fill="none" stroke="#fff" stroke-width="1.9"/>
<text transform="translate(1164.04,891.7) scale(0.9864,1)" font-size="28.6" font-weight="bold" fill="#000">15</text>
<text transform="translate(1207.6,891.7) scale(0.8098,1)" font-size="28.6" font-weight="bold" fill="#000">C</text>
<circle cx="1201.87" cy="872.7" r="2.25" fill="none" stroke="#000" stroke-width="1.9"/>
<rect x="201.2" y="1583.6" width="463" height="44.2" fill="#000"/>
<rect x="437" y="1589.4" width="222" height="32.2" fill="#fff"/>
<text transform="translate(287.33,1617.2) scale(0.9655,1)" font-size="28.6" font-weight="bold" fill="#fff">25</text>
<text transform="translate(330.32,1617.2) scale(0.8140,1)" font-size="28.6" font-weight="bold" fill="#fff">C</text>
<circle cx="324.56" cy="1598.2" r="2.25" fill="none" stroke="#fff" stroke-width="1.9"/>
<text transform="translate(517.16,1616.9) scale(0.9711,1)" font-size="28.6" font-weight="bold" fill="#000">15</text>
<text transform="translate(560.05,1616.9) scale(0.7972,1)" font-size="28.6" font-weight="bold" fill="#000">C</text>
<circle cx="554.41" cy="1597.9" r="2.25" fill="none" stroke="#000" stroke-width="1.9"/>
<rect x="873.5" y="1583.6" width="466" height="45" fill="#000"/>
<rect x="1107.7" y="1589.4" width="226.6" height="33" fill="#fff"/>
<text transform="translate(959.63,1617.2) scale(0.9688,1)" font-size="28.6" font-weight="bold" fill="#fff">25</text>
<text transform="translate(1002.76,1617.2) scale(0.8168,1)" font-size="28.6" font-weight="bold" fill="#fff">C</text>
<circle cx="996.98" cy="1598.2" r="2.25" fill="none" stroke="#fff" stroke-width="1.9"/>
<text transform="translate(1190.18,1616.9) scale(0.9643,1)" font-size="28.6" font-weight="bold" fill="#000">15</text>
<text transform="translate(1232.77,1616.9) scale(0.7916,1)" font-size="28.6" font-weight="bold" fill="#000">C</text>
<circle cx="1227.16" cy="1597.9" r="2.25" fill="none" stroke="#000" stroke-width="1.9"/>
<rect x="232.7" y="1648" width="29.8" height="29.6" fill="url(#dia_r)" stroke="#ef3434" stroke-width="2.6"/>
<text transform="translate(276.1,1662.4) scale(1.1944,1)" font-size="21.5" font-weight="bold" fill="#000">13</text>
<text transform="translate(304.41,1674.4) scale(0.9099,1)" font-size="35.5" font-weight="bold" fill="#000">C-K</text>
<text transform="translate(362.93,1684.4) scale(1.1796,1)" font-size="21.5" font-weight="bold" fill="#000">37:2</text>
<rect x="452.4" y="1647.3" width="30" height="29.8" fill="url(#dia)" stroke="#6060f2" stroke-width="2.6"/>
<text transform="translate(495.91,1662.6) scale(1.1071,1)" font-size="21.5" font-weight="bold" fill="#000">13</text>
<text transform="translate(522.18,1674.6) scale(0.9311,1)" font-size="35.5" font-weight="bold" fill="#000">C-K</text>
<text transform="translate(582.04,1684.6) scale(1.1517,1)" font-size="21.5" font-weight="bold" fill="#000">37:3</text>
<rect x="907.5" y="1648" width="29.8" height="29.6" fill="url(#dia_r)" stroke="#ef3434" stroke-width="2.6"/>
<text transform="translate(950.53,1662.4) scale(1.1668,1)" font-size="21.5" font-weight="bold" fill="#000">13</text>
<text transform="translate(978.21,1674.4) scale(0.9099,1)" font-size="35.5" font-weight="bold" fill="#000">C-K</text>
<text transform="translate(1036.74,1684.4) scale(1.1628,1)" font-size="21.5" font-weight="bold" fill="#000">37:2</text>
<rect x="1127.3" y="1647.3" width="29.8" height="29.8" fill="url(#dia)" stroke="#6060f2" stroke-width="2.6"/>
<text transform="translate(1170.81,1662.6) scale(1.1071,1)" font-size="21.5" font-weight="bold" fill="#000">13</text>
<text transform="translate(1197.1,1674.6) scale(0.9164,1)" font-size="35.5" font-weight="bold" fill="#000">C-K</text>
<text transform="translate(1256.03,1684.6) scale(1.1709,1)" font-size="21.5" font-weight="bold" fill="#000">37:3</text></svg></body></html>
